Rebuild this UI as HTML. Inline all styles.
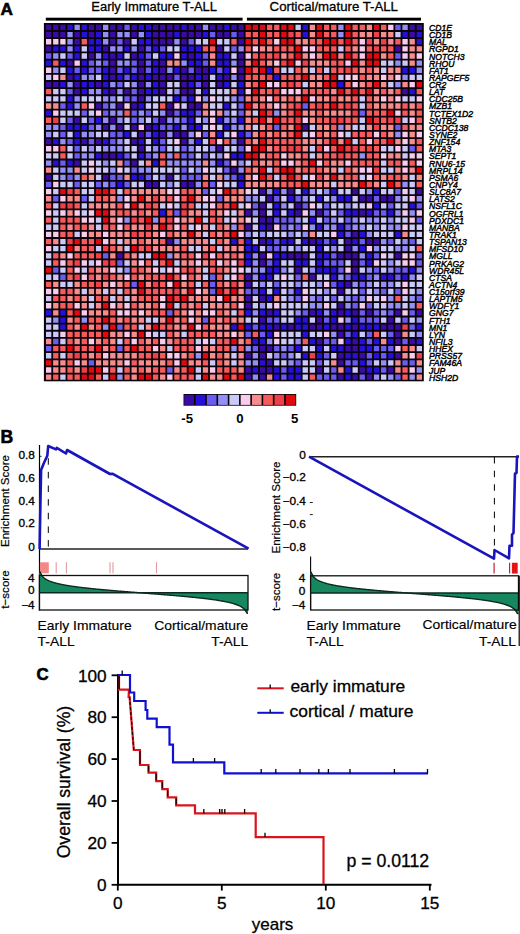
<!DOCTYPE html>
<html><head><meta charset="utf-8"><title>figure</title>
<style>html,body{margin:0;padding:0;background:#fff;width:520px;height:934px;overflow:hidden}</style>
</head><body>
<svg width="520" height="934" viewBox="0 0 520 934" style="display:block">
<style>text{font-family:"Liberation Sans",sans-serif}</style>
<rect width="520" height="934" fill="#fff"/>
<text transform="translate(0.50,15.00)" font-size="17.2" font-weight="bold" stroke="#000" stroke-width="0.6" fill="#000">A</text>
<text transform="translate(91.30,11.20) scale(0.99,1)" font-size="13.1" stroke="#000" stroke-width="0.3" fill="#000">Early Immature T-ALL</text>
<text transform="translate(269.60,11.20) scale(1.01,1)" font-size="13.1" stroke="#000" stroke-width="0.3" fill="#000">Cortical/mature T-ALL</text>
<rect x="45.8" y="17.7" width="196.8" height="2.9" fill="#000"/>
<rect x="246.9" y="17.7" width="174.1" height="2.9" fill="#000"/>
<rect x="43.9" y="23.0" width="379.9" height="358.3" fill="#0a0208"/>
<path fill="#380ca4" d="M45.99 24.78h5.33v5.34h-5.33zM53.12 24.78h5.33v5.34h-5.33zM60.25 24.78h5.33v5.34h-5.33zM88.76 24.78h5.33v5.34h-5.33zM95.89 24.78h5.33v5.34h-5.33zM110.14 24.78h5.33v5.34h-5.33zM117.27 24.78h5.33v5.34h-5.33zM131.53 24.78h5.33v5.34h-5.33zM152.91 24.78h5.33v5.34h-5.33zM160.04 24.78h5.33v5.34h-5.33zM167.17 24.78h5.33v5.34h-5.33zM174.29 24.78h5.33v5.34h-5.33zM188.55 24.78h5.33v5.34h-5.33zM195.68 24.78h5.33v5.34h-5.33zM209.93 24.78h5.33v5.34h-5.33zM217.06 24.78h5.33v5.34h-5.33zM231.32 24.78h5.33v5.34h-5.33zM238.45 24.78h5.33v5.34h-5.33zM409.52 24.78h5.33v5.34h-5.33zM416.65 24.78h5.33v5.34h-5.33zM45.99 31.92h5.33v5.34h-5.33zM53.12 31.92h5.33v5.34h-5.33zM60.25 31.92h5.33v5.34h-5.33zM74.50 31.92h5.33v5.34h-5.33zM88.76 31.92h5.33v5.34h-5.33zM110.14 31.92h5.33v5.34h-5.33zM131.53 31.92h5.33v5.34h-5.33zM152.91 31.92h5.33v5.34h-5.33zM160.04 31.92h5.33v5.34h-5.33zM167.17 31.92h5.33v5.34h-5.33zM181.42 31.92h5.33v5.34h-5.33zM188.55 31.92h5.33v5.34h-5.33zM195.68 31.92h5.33v5.34h-5.33zM217.06 31.92h5.33v5.34h-5.33zM224.19 31.92h5.33v5.34h-5.33zM238.45 31.92h5.33v5.34h-5.33zM409.52 31.92h5.33v5.34h-5.33zM74.50 39.05h5.33v5.34h-5.33zM110.14 39.05h5.33v5.34h-5.33zM124.40 39.05h5.33v5.34h-5.33zM152.91 39.05h5.33v5.34h-5.33zM160.04 39.05h5.33v5.34h-5.33zM167.17 39.05h5.33v5.34h-5.33zM181.42 39.05h5.33v5.34h-5.33zM238.45 39.05h5.33v5.34h-5.33zM45.99 46.19h5.33v5.34h-5.33zM103.01 46.19h5.33v5.34h-5.33zM138.65 46.19h5.33v5.34h-5.33zM217.06 46.19h5.33v5.34h-5.33zM395.26 46.19h5.33v5.34h-5.33zM88.76 53.33h5.33v5.34h-5.33zM110.14 53.33h5.33v5.34h-5.33zM131.53 53.33h5.33v5.34h-5.33zM188.55 53.33h5.33v5.34h-5.33zM238.45 53.33h5.33v5.34h-5.33zM67.37 60.46h5.33v5.34h-5.33zM110.14 60.46h5.33v5.34h-5.33zM138.65 60.46h5.33v5.34h-5.33zM160.04 60.46h5.33v5.34h-5.33zM238.45 60.46h5.33v5.34h-5.33zM110.14 67.60h5.33v5.34h-5.33zM138.65 67.60h5.33v5.34h-5.33zM160.04 67.60h5.33v5.34h-5.33zM181.42 67.60h5.33v5.34h-5.33zM195.68 67.60h5.33v5.34h-5.33zM202.81 67.60h5.33v5.34h-5.33zM238.45 67.60h5.33v5.34h-5.33zM67.37 74.74h5.33v5.34h-5.33zM110.14 74.74h5.33v5.34h-5.33zM138.65 74.74h5.33v5.34h-5.33zM152.91 74.74h5.33v5.34h-5.33zM160.04 74.74h5.33v5.34h-5.33zM167.17 74.74h5.33v5.34h-5.33zM181.42 74.74h5.33v5.34h-5.33zM188.55 74.74h5.33v5.34h-5.33zM202.81 74.74h5.33v5.34h-5.33zM224.19 74.74h5.33v5.34h-5.33zM238.45 74.74h5.33v5.34h-5.33zM45.99 81.88h5.33v5.34h-5.33zM53.12 81.88h5.33v5.34h-5.33zM74.50 81.88h5.33v5.34h-5.33zM95.89 81.88h5.33v5.34h-5.33zM138.65 81.88h5.33v5.34h-5.33zM160.04 81.88h5.33v5.34h-5.33zM181.42 81.88h5.33v5.34h-5.33zM202.81 81.88h5.33v5.34h-5.33zM217.06 81.88h5.33v5.34h-5.33zM74.50 89.01h5.33v5.34h-5.33zM110.14 89.01h5.33v5.34h-5.33zM124.40 89.01h5.33v5.34h-5.33zM138.65 89.01h5.33v5.34h-5.33zM160.04 89.01h5.33v5.34h-5.33zM181.42 89.01h5.33v5.34h-5.33zM188.55 89.01h5.33v5.34h-5.33zM402.39 89.01h5.33v5.34h-5.33zM138.65 96.15h5.33v5.34h-5.33zM95.89 103.29h5.33v5.34h-5.33zM117.27 103.29h5.33v5.34h-5.33zM131.53 103.29h5.33v5.34h-5.33zM167.17 103.29h5.33v5.34h-5.33zM188.55 103.29h5.33v5.34h-5.33zM195.68 103.29h5.33v5.34h-5.33zM167.17 110.42h5.33v5.34h-5.33zM74.50 117.56h5.33v5.34h-5.33zM110.14 117.56h5.33v5.34h-5.33zM160.04 117.56h5.33v5.34h-5.33zM103.01 124.70h5.33v5.34h-5.33zM117.27 124.70h5.33v5.34h-5.33zM131.53 124.70h5.33v5.34h-5.33zM145.78 124.70h5.33v5.34h-5.33zM302.60 124.70h5.33v5.34h-5.33zM138.65 131.84h5.33v5.34h-5.33zM160.04 131.84h5.33v5.34h-5.33zM174.29 131.84h5.33v5.34h-5.33zM181.42 131.84h5.33v5.34h-5.33zM45.99 138.97h5.33v5.34h-5.33zM81.63 138.97h5.33v5.34h-5.33zM95.89 138.97h5.33v5.34h-5.33zM131.53 138.97h5.33v5.34h-5.33zM181.42 138.97h5.33v5.34h-5.33zM238.45 138.97h5.33v5.34h-5.33zM138.65 146.11h5.33v5.34h-5.33zM217.06 146.11h5.33v5.34h-5.33zM103.01 153.25h5.33v5.34h-5.33zM110.14 153.25h5.33v5.34h-5.33zM74.50 160.38h5.33v5.34h-5.33zM131.53 160.38h5.33v5.34h-5.33zM231.32 167.52h5.33v5.34h-5.33zM45.99 174.66h5.33v5.34h-5.33zM103.01 174.66h5.33v5.34h-5.33zM167.17 174.66h5.33v5.34h-5.33zM145.78 181.79h5.33v5.34h-5.33zM152.91 181.79h5.33v5.34h-5.33zM181.42 181.79h5.33v5.34h-5.33zM188.55 181.79h5.33v5.34h-5.33zM259.83 188.93h5.33v5.34h-5.33zM288.34 188.93h5.33v5.34h-5.33zM352.49 188.93h5.33v5.34h-5.33zM416.65 188.93h5.33v5.34h-5.33zM266.96 196.07h5.33v5.34h-5.33zM359.62 196.07h5.33v5.34h-5.33zM366.75 196.07h5.33v5.34h-5.33zM381.01 196.07h5.33v5.34h-5.33zM388.13 196.07h5.33v5.34h-5.33zM259.83 203.20h5.33v5.34h-5.33zM295.47 203.20h5.33v5.34h-5.33zM245.57 210.34h5.33v5.34h-5.33zM259.83 210.34h5.33v5.34h-5.33zM295.47 210.34h5.33v5.34h-5.33zM316.85 210.34h5.33v5.34h-5.33zM359.62 210.34h5.33v5.34h-5.33zM259.83 217.48h5.33v5.34h-5.33zM266.96 217.48h5.33v5.34h-5.33zM245.57 224.62h5.33v5.34h-5.33zM266.96 224.62h5.33v5.34h-5.33zM352.49 231.75h5.33v5.34h-5.33zM167.17 238.89h5.33v5.34h-5.33zM259.83 238.89h5.33v5.34h-5.33zM309.73 238.89h5.33v5.34h-5.33zM345.37 238.89h5.33v5.34h-5.33zM366.75 238.89h5.33v5.34h-5.33zM373.88 238.89h5.33v5.34h-5.33zM345.37 246.03h5.33v5.34h-5.33zM117.27 253.16h5.33v5.34h-5.33zM259.83 253.16h5.33v5.34h-5.33zM288.34 253.16h5.33v5.34h-5.33zM295.47 253.16h5.33v5.34h-5.33zM302.60 253.16h5.33v5.34h-5.33zM338.24 253.16h5.33v5.34h-5.33zM345.37 253.16h5.33v5.34h-5.33zM352.49 253.16h5.33v5.34h-5.33zM395.26 253.16h5.33v5.34h-5.33zM259.83 260.30h5.33v5.34h-5.33zM352.49 260.30h5.33v5.34h-5.33zM295.47 267.44h5.33v5.34h-5.33zM352.49 267.44h5.33v5.34h-5.33zM245.57 274.57h5.33v5.34h-5.33zM309.73 274.57h5.33v5.34h-5.33zM245.57 281.71h5.33v5.34h-5.33zM345.37 281.71h5.33v5.34h-5.33zM338.24 288.85h5.33v5.34h-5.33zM245.57 295.99h5.33v5.34h-5.33zM259.83 295.99h5.33v5.34h-5.33zM245.57 303.12h5.33v5.34h-5.33zM338.24 303.12h5.33v5.34h-5.33zM266.96 310.26h5.33v5.34h-5.33zM309.73 310.26h5.33v5.34h-5.33zM338.24 310.26h5.33v5.34h-5.33zM352.49 310.26h5.33v5.34h-5.33zM366.75 310.26h5.33v5.34h-5.33zM395.26 310.26h5.33v5.34h-5.33zM416.65 310.26h5.33v5.34h-5.33zM259.83 317.40h5.33v5.34h-5.33zM316.85 317.40h5.33v5.34h-5.33zM388.13 317.40h5.33v5.34h-5.33zM274.09 324.53h5.33v5.34h-5.33zM288.34 324.53h5.33v5.34h-5.33zM309.73 324.53h5.33v5.34h-5.33zM316.85 324.53h5.33v5.34h-5.33zM331.11 324.53h5.33v5.34h-5.33zM338.24 324.53h5.33v5.34h-5.33zM352.49 324.53h5.33v5.34h-5.33zM381.01 324.53h5.33v5.34h-5.33zM388.13 324.53h5.33v5.34h-5.33zM395.26 324.53h5.33v5.34h-5.33zM338.24 331.67h5.33v5.34h-5.33zM395.26 331.67h5.33v5.34h-5.33zM316.85 338.81h5.33v5.34h-5.33zM352.49 338.81h5.33v5.34h-5.33zM395.26 338.81h5.33v5.34h-5.33zM409.52 338.81h5.33v5.34h-5.33zM259.83 345.94h5.33v5.34h-5.33zM266.96 345.94h5.33v5.34h-5.33zM345.37 345.94h5.33v5.34h-5.33zM352.49 345.94h5.33v5.34h-5.33zM245.57 353.08h5.33v5.34h-5.33zM259.83 353.08h5.33v5.34h-5.33zM338.24 353.08h5.33v5.34h-5.33zM359.62 353.08h5.33v5.34h-5.33zM395.26 353.08h5.33v5.34h-5.33zM266.96 360.22h5.33v5.34h-5.33zM338.24 360.22h5.33v5.34h-5.33zM245.57 367.36h5.33v5.34h-5.33zM259.83 367.36h5.33v5.34h-5.33zM266.96 367.36h5.33v5.34h-5.33zM316.85 367.36h5.33v5.34h-5.33zM359.62 367.36h5.33v5.34h-5.33zM388.13 367.36h5.33v5.34h-5.33zM245.57 374.49h5.33v5.34h-5.33zM259.83 374.49h5.33v5.34h-5.33zM338.24 374.49h5.33v5.34h-5.33zM352.49 374.49h5.33v5.34h-5.33zM366.75 374.49h5.33v5.34h-5.33z"/>
<path fill="#2410d8" d="M67.37 24.78h5.33v5.34h-5.33zM81.63 24.78h5.33v5.34h-5.33zM138.65 24.78h5.33v5.34h-5.33zM145.78 24.78h5.33v5.34h-5.33zM181.42 24.78h5.33v5.34h-5.33zM224.19 24.78h5.33v5.34h-5.33zM302.60 24.78h5.33v5.34h-5.33zM81.63 31.92h5.33v5.34h-5.33zM95.89 31.92h5.33v5.34h-5.33zM145.78 31.92h5.33v5.34h-5.33zM174.29 31.92h5.33v5.34h-5.33zM202.81 31.92h5.33v5.34h-5.33zM302.60 31.92h5.33v5.34h-5.33zM402.39 31.92h5.33v5.34h-5.33zM416.65 31.92h5.33v5.34h-5.33zM88.76 39.05h5.33v5.34h-5.33zM95.89 39.05h5.33v5.34h-5.33zM138.65 39.05h5.33v5.34h-5.33zM145.78 39.05h5.33v5.34h-5.33zM416.65 39.05h5.33v5.34h-5.33zM53.12 46.19h5.33v5.34h-5.33zM60.25 46.19h5.33v5.34h-5.33zM74.50 46.19h5.33v5.34h-5.33zM88.76 46.19h5.33v5.34h-5.33zM95.89 46.19h5.33v5.34h-5.33zM124.40 46.19h5.33v5.34h-5.33zM152.91 46.19h5.33v5.34h-5.33zM181.42 46.19h5.33v5.34h-5.33zM188.55 46.19h5.33v5.34h-5.33zM195.68 46.19h5.33v5.34h-5.33zM74.50 53.33h5.33v5.34h-5.33zM103.01 53.33h5.33v5.34h-5.33zM117.27 53.33h5.33v5.34h-5.33zM138.65 53.33h5.33v5.34h-5.33zM160.04 53.33h5.33v5.34h-5.33zM167.17 53.33h5.33v5.34h-5.33zM181.42 53.33h5.33v5.34h-5.33zM195.68 53.33h5.33v5.34h-5.33zM217.06 53.33h5.33v5.34h-5.33zM224.19 53.33h5.33v5.34h-5.33zM45.99 60.46h5.33v5.34h-5.33zM60.25 60.46h5.33v5.34h-5.33zM81.63 60.46h5.33v5.34h-5.33zM152.91 60.46h5.33v5.34h-5.33zM188.55 60.46h5.33v5.34h-5.33zM195.68 60.46h5.33v5.34h-5.33zM217.06 60.46h5.33v5.34h-5.33zM224.19 60.46h5.33v5.34h-5.33zM67.37 67.60h5.33v5.34h-5.33zM81.63 67.60h5.33v5.34h-5.33zM103.01 67.60h5.33v5.34h-5.33zM124.40 67.60h5.33v5.34h-5.33zM152.91 67.60h5.33v5.34h-5.33zM174.29 67.60h5.33v5.34h-5.33zM209.93 67.60h5.33v5.34h-5.33zM224.19 67.60h5.33v5.34h-5.33zM266.96 67.60h5.33v5.34h-5.33zM402.39 67.60h5.33v5.34h-5.33zM409.52 67.60h5.33v5.34h-5.33zM74.50 74.74h5.33v5.34h-5.33zM103.01 74.74h5.33v5.34h-5.33zM117.27 74.74h5.33v5.34h-5.33zM131.53 74.74h5.33v5.34h-5.33zM145.78 74.74h5.33v5.34h-5.33zM195.68 74.74h5.33v5.34h-5.33zM217.06 74.74h5.33v5.34h-5.33zM274.09 74.74h5.33v5.34h-5.33zM60.25 81.88h5.33v5.34h-5.33zM81.63 81.88h5.33v5.34h-5.33zM88.76 81.88h5.33v5.34h-5.33zM103.01 81.88h5.33v5.34h-5.33zM152.91 81.88h5.33v5.34h-5.33zM188.55 81.88h5.33v5.34h-5.33zM224.19 81.88h5.33v5.34h-5.33zM238.45 81.88h5.33v5.34h-5.33zM338.24 81.88h5.33v5.34h-5.33zM81.63 89.01h5.33v5.34h-5.33zM103.01 89.01h5.33v5.34h-5.33zM145.78 89.01h5.33v5.34h-5.33zM152.91 89.01h5.33v5.34h-5.33zM202.81 89.01h5.33v5.34h-5.33zM238.45 89.01h5.33v5.34h-5.33zM409.52 89.01h5.33v5.34h-5.33zM67.37 96.15h5.33v5.34h-5.33zM174.29 96.15h5.33v5.34h-5.33zM188.55 96.15h5.33v5.34h-5.33zM67.37 103.29h5.33v5.34h-5.33zM138.65 103.29h5.33v5.34h-5.33zM224.19 103.29h5.33v5.34h-5.33zM45.99 110.42h5.33v5.34h-5.33zM181.42 110.42h5.33v5.34h-5.33zM188.55 110.42h5.33v5.34h-5.33zM95.89 117.56h5.33v5.34h-5.33zM188.55 117.56h5.33v5.34h-5.33zM217.06 117.56h5.33v5.34h-5.33zM238.45 117.56h5.33v5.34h-5.33zM67.37 124.70h5.33v5.34h-5.33zM74.50 124.70h5.33v5.34h-5.33zM81.63 124.70h5.33v5.34h-5.33zM152.91 124.70h5.33v5.34h-5.33zM174.29 124.70h5.33v5.34h-5.33zM188.55 124.70h5.33v5.34h-5.33zM195.68 124.70h5.33v5.34h-5.33zM224.19 124.70h5.33v5.34h-5.33zM74.50 131.84h5.33v5.34h-5.33zM124.40 131.84h5.33v5.34h-5.33zM152.91 131.84h5.33v5.34h-5.33zM217.06 131.84h5.33v5.34h-5.33zM238.45 131.84h5.33v5.34h-5.33zM53.12 138.97h5.33v5.34h-5.33zM74.50 138.97h5.33v5.34h-5.33zM103.01 138.97h5.33v5.34h-5.33zM138.65 138.97h5.33v5.34h-5.33zM152.91 138.97h5.33v5.34h-5.33zM195.68 138.97h5.33v5.34h-5.33zM95.89 153.25h5.33v5.34h-5.33zM117.27 153.25h5.33v5.34h-5.33zM138.65 153.25h5.33v5.34h-5.33zM231.32 153.25h5.33v5.34h-5.33zM238.45 153.25h5.33v5.34h-5.33zM53.12 160.38h5.33v5.34h-5.33zM67.37 160.38h5.33v5.34h-5.33zM152.91 160.38h5.33v5.34h-5.33zM217.06 160.38h5.33v5.34h-5.33zM131.53 174.66h5.33v5.34h-5.33zM138.65 174.66h5.33v5.34h-5.33zM238.45 174.66h5.33v5.34h-5.33zM117.27 181.79h5.33v5.34h-5.33zM238.45 181.79h5.33v5.34h-5.33zM274.09 188.93h5.33v5.34h-5.33zM302.60 188.93h5.33v5.34h-5.33zM331.11 188.93h5.33v5.34h-5.33zM373.88 188.93h5.33v5.34h-5.33zM288.34 196.07h5.33v5.34h-5.33zM316.85 196.07h5.33v5.34h-5.33zM338.24 196.07h5.33v5.34h-5.33zM345.37 196.07h5.33v5.34h-5.33zM274.09 203.20h5.33v5.34h-5.33zM373.88 203.20h5.33v5.34h-5.33zM409.52 203.20h5.33v5.34h-5.33zM160.04 210.34h5.33v5.34h-5.33zM274.09 210.34h5.33v5.34h-5.33zM288.34 210.34h5.33v5.34h-5.33zM345.37 210.34h5.33v5.34h-5.33zM352.49 210.34h5.33v5.34h-5.33zM366.75 210.34h5.33v5.34h-5.33zM388.13 210.34h5.33v5.34h-5.33zM309.73 217.48h5.33v5.34h-5.33zM259.83 224.62h5.33v5.34h-5.33zM316.85 224.62h5.33v5.34h-5.33zM338.24 224.62h5.33v5.34h-5.33zM338.24 231.75h5.33v5.34h-5.33zM359.62 231.75h5.33v5.34h-5.33zM395.26 231.75h5.33v5.34h-5.33zM231.32 238.89h5.33v5.34h-5.33zM245.57 238.89h5.33v5.34h-5.33zM266.96 238.89h5.33v5.34h-5.33zM281.21 238.89h5.33v5.34h-5.33zM288.34 238.89h5.33v5.34h-5.33zM302.60 238.89h5.33v5.34h-5.33zM316.85 238.89h5.33v5.34h-5.33zM331.11 238.89h5.33v5.34h-5.33zM352.49 238.89h5.33v5.34h-5.33zM245.57 246.03h5.33v5.34h-5.33zM252.70 246.03h5.33v5.34h-5.33zM316.85 246.03h5.33v5.34h-5.33zM359.62 246.03h5.33v5.34h-5.33zM245.57 253.16h5.33v5.34h-5.33zM274.09 253.16h5.33v5.34h-5.33zM281.21 253.16h5.33v5.34h-5.33zM316.85 253.16h5.33v5.34h-5.33zM323.98 253.16h5.33v5.34h-5.33zM366.75 253.16h5.33v5.34h-5.33zM245.57 260.30h5.33v5.34h-5.33zM274.09 260.30h5.33v5.34h-5.33zM295.47 260.30h5.33v5.34h-5.33zM302.60 260.30h5.33v5.34h-5.33zM316.85 260.30h5.33v5.34h-5.33zM366.75 260.30h5.33v5.34h-5.33zM266.96 267.44h5.33v5.34h-5.33zM274.09 267.44h5.33v5.34h-5.33zM316.85 267.44h5.33v5.34h-5.33zM323.98 267.44h5.33v5.34h-5.33zM331.11 267.44h5.33v5.34h-5.33zM409.52 267.44h5.33v5.34h-5.33zM259.83 274.57h5.33v5.34h-5.33zM266.96 274.57h5.33v5.34h-5.33zM331.11 274.57h5.33v5.34h-5.33zM352.49 274.57h5.33v5.34h-5.33zM359.62 274.57h5.33v5.34h-5.33zM381.01 274.57h5.33v5.34h-5.33zM388.13 274.57h5.33v5.34h-5.33zM402.39 274.57h5.33v5.34h-5.33zM338.24 281.71h5.33v5.34h-5.33zM259.83 288.85h5.33v5.34h-5.33zM274.09 288.85h5.33v5.34h-5.33zM295.47 288.85h5.33v5.34h-5.33zM266.96 295.99h5.33v5.34h-5.33zM45.99 310.26h5.33v5.34h-5.33zM60.25 310.26h5.33v5.34h-5.33zM245.57 310.26h5.33v5.34h-5.33zM259.83 310.26h5.33v5.34h-5.33zM274.09 310.26h5.33v5.34h-5.33zM316.85 310.26h5.33v5.34h-5.33zM331.11 310.26h5.33v5.34h-5.33zM345.37 310.26h5.33v5.34h-5.33zM60.25 317.40h5.33v5.34h-5.33zM295.47 317.40h5.33v5.34h-5.33zM302.60 317.40h5.33v5.34h-5.33zM331.11 317.40h5.33v5.34h-5.33zM352.49 317.40h5.33v5.34h-5.33zM60.25 324.53h5.33v5.34h-5.33zM231.32 324.53h5.33v5.34h-5.33zM245.57 324.53h5.33v5.34h-5.33zM259.83 324.53h5.33v5.34h-5.33zM266.96 324.53h5.33v5.34h-5.33zM281.21 324.53h5.33v5.34h-5.33zM295.47 324.53h5.33v5.34h-5.33zM302.60 324.53h5.33v5.34h-5.33zM323.98 324.53h5.33v5.34h-5.33zM345.37 324.53h5.33v5.34h-5.33zM359.62 324.53h5.33v5.34h-5.33zM366.75 324.53h5.33v5.34h-5.33zM373.88 324.53h5.33v5.34h-5.33zM416.65 324.53h5.33v5.34h-5.33zM266.96 331.67h5.33v5.34h-5.33zM302.60 331.67h5.33v5.34h-5.33zM352.49 331.67h5.33v5.34h-5.33zM252.70 338.81h5.33v5.34h-5.33zM259.83 338.81h5.33v5.34h-5.33zM309.73 338.81h5.33v5.34h-5.33zM345.37 338.81h5.33v5.34h-5.33zM359.62 338.81h5.33v5.34h-5.33zM373.88 338.81h5.33v5.34h-5.33zM388.13 338.81h5.33v5.34h-5.33zM416.65 338.81h5.33v5.34h-5.33zM295.47 345.94h5.33v5.34h-5.33zM316.85 345.94h5.33v5.34h-5.33zM331.11 345.94h5.33v5.34h-5.33zM338.24 345.94h5.33v5.34h-5.33zM359.62 345.94h5.33v5.34h-5.33zM366.75 345.94h5.33v5.34h-5.33zM302.60 353.08h5.33v5.34h-5.33zM316.85 353.08h5.33v5.34h-5.33zM345.37 353.08h5.33v5.34h-5.33zM352.49 353.08h5.33v5.34h-5.33zM373.88 353.08h5.33v5.34h-5.33zM388.13 353.08h5.33v5.34h-5.33zM259.83 360.22h5.33v5.34h-5.33zM359.62 360.22h5.33v5.34h-5.33zM252.70 367.36h5.33v5.34h-5.33zM274.09 367.36h5.33v5.34h-5.33zM288.34 367.36h5.33v5.34h-5.33zM295.47 367.36h5.33v5.34h-5.33zM345.37 367.36h5.33v5.34h-5.33zM366.75 367.36h5.33v5.34h-5.33zM373.88 367.36h5.33v5.34h-5.33zM274.09 374.49h5.33v5.34h-5.33zM288.34 374.49h5.33v5.34h-5.33zM295.47 374.49h5.33v5.34h-5.33zM345.37 374.49h5.33v5.34h-5.33z"/>
<path fill="#6a5cee" d="M124.40 24.78h5.33v5.34h-5.33zM395.26 24.78h5.33v5.34h-5.33zM209.93 31.92h5.33v5.34h-5.33zM231.32 31.92h5.33v5.34h-5.33zM117.27 39.05h5.33v5.34h-5.33zM188.55 39.05h5.33v5.34h-5.33zM145.78 46.19h5.33v5.34h-5.33zM160.04 46.19h5.33v5.34h-5.33zM231.32 46.19h5.33v5.34h-5.33zM45.99 53.33h5.33v5.34h-5.33zM67.37 53.33h5.33v5.34h-5.33zM145.78 53.33h5.33v5.34h-5.33zM202.81 53.33h5.33v5.34h-5.33zM395.26 53.33h5.33v5.34h-5.33zM88.76 60.46h5.33v5.34h-5.33zM103.01 60.46h5.33v5.34h-5.33zM131.53 60.46h5.33v5.34h-5.33zM145.78 60.46h5.33v5.34h-5.33zM202.81 60.46h5.33v5.34h-5.33zM74.50 67.60h5.33v5.34h-5.33zM88.76 67.60h5.33v5.34h-5.33zM95.89 67.60h5.33v5.34h-5.33zM117.27 67.60h5.33v5.34h-5.33zM131.53 67.60h5.33v5.34h-5.33zM145.78 67.60h5.33v5.34h-5.33zM188.55 67.60h5.33v5.34h-5.33zM217.06 67.60h5.33v5.34h-5.33zM124.40 74.74h5.33v5.34h-5.33zM174.29 74.74h5.33v5.34h-5.33zM117.27 81.88h5.33v5.34h-5.33zM195.68 81.88h5.33v5.34h-5.33zM67.37 89.01h5.33v5.34h-5.33zM131.53 89.01h5.33v5.34h-5.33zM124.40 96.15h5.33v5.34h-5.33zM131.53 96.15h5.33v5.34h-5.33zM181.42 96.15h5.33v5.34h-5.33zM238.45 96.15h5.33v5.34h-5.33zM60.25 103.29h5.33v5.34h-5.33zM103.01 103.29h5.33v5.34h-5.33zM238.45 103.29h5.33v5.34h-5.33zM302.60 103.29h5.33v5.34h-5.33zM81.63 110.42h5.33v5.34h-5.33zM103.01 110.42h5.33v5.34h-5.33zM131.53 110.42h5.33v5.34h-5.33zM145.78 110.42h5.33v5.34h-5.33zM174.29 110.42h5.33v5.34h-5.33zM195.68 110.42h5.33v5.34h-5.33zM238.45 110.42h5.33v5.34h-5.33zM359.62 110.42h5.33v5.34h-5.33zM67.37 117.56h5.33v5.34h-5.33zM88.76 117.56h5.33v5.34h-5.33zM131.53 117.56h5.33v5.34h-5.33zM152.91 117.56h5.33v5.34h-5.33zM181.42 117.56h5.33v5.34h-5.33zM60.25 124.70h5.33v5.34h-5.33zM88.76 124.70h5.33v5.34h-5.33zM160.04 124.70h5.33v5.34h-5.33zM167.17 124.70h5.33v5.34h-5.33zM274.09 124.70h5.33v5.34h-5.33zM395.26 124.70h5.33v5.34h-5.33zM60.25 131.84h5.33v5.34h-5.33zM110.14 131.84h5.33v5.34h-5.33zM117.27 131.84h5.33v5.34h-5.33zM145.78 131.84h5.33v5.34h-5.33zM202.81 131.84h5.33v5.34h-5.33zM245.57 131.84h5.33v5.34h-5.33zM67.37 138.97h5.33v5.34h-5.33zM88.76 138.97h5.33v5.34h-5.33zM110.14 138.97h5.33v5.34h-5.33zM160.04 138.97h5.33v5.34h-5.33zM74.50 146.11h5.33v5.34h-5.33zM160.04 146.11h5.33v5.34h-5.33zM181.42 146.11h5.33v5.34h-5.33zM238.45 146.11h5.33v5.34h-5.33zM409.52 146.11h5.33v5.34h-5.33zM74.50 153.25h5.33v5.34h-5.33zM124.40 153.25h5.33v5.34h-5.33zM145.78 153.25h5.33v5.34h-5.33zM181.42 153.25h5.33v5.34h-5.33zM188.55 153.25h5.33v5.34h-5.33zM202.81 153.25h5.33v5.34h-5.33zM60.25 160.38h5.33v5.34h-5.33zM124.40 160.38h5.33v5.34h-5.33zM224.19 160.38h5.33v5.34h-5.33zM131.53 167.52h5.33v5.34h-5.33zM181.42 167.52h5.33v5.34h-5.33zM224.19 167.52h5.33v5.34h-5.33zM67.37 174.66h5.33v5.34h-5.33zM110.14 174.66h5.33v5.34h-5.33zM117.27 174.66h5.33v5.34h-5.33zM145.78 174.66h5.33v5.34h-5.33zM181.42 174.66h5.33v5.34h-5.33zM188.55 174.66h5.33v5.34h-5.33zM195.68 174.66h5.33v5.34h-5.33zM231.32 174.66h5.33v5.34h-5.33zM45.99 181.79h5.33v5.34h-5.33zM74.50 181.79h5.33v5.34h-5.33zM95.89 181.79h5.33v5.34h-5.33zM110.14 181.79h5.33v5.34h-5.33zM124.40 181.79h5.33v5.34h-5.33zM209.93 181.79h5.33v5.34h-5.33zM202.81 188.93h5.33v5.34h-5.33zM395.26 188.93h5.33v5.34h-5.33zM53.12 196.07h5.33v5.34h-5.33zM81.63 196.07h5.33v5.34h-5.33zM217.06 196.07h5.33v5.34h-5.33zM274.09 196.07h5.33v5.34h-5.33zM295.47 196.07h5.33v5.34h-5.33zM373.88 196.07h5.33v5.34h-5.33zM252.70 203.20h5.33v5.34h-5.33zM302.60 203.20h5.33v5.34h-5.33zM323.98 203.20h5.33v5.34h-5.33zM388.13 203.20h5.33v5.34h-5.33zM416.65 203.20h5.33v5.34h-5.33zM174.29 210.34h5.33v5.34h-5.33zM323.98 210.34h5.33v5.34h-5.33zM338.24 210.34h5.33v5.34h-5.33zM373.88 210.34h5.33v5.34h-5.33zM381.01 210.34h5.33v5.34h-5.33zM274.09 217.48h5.33v5.34h-5.33zM281.21 217.48h5.33v5.34h-5.33zM288.34 217.48h5.33v5.34h-5.33zM323.98 217.48h5.33v5.34h-5.33zM345.37 217.48h5.33v5.34h-5.33zM416.65 217.48h5.33v5.34h-5.33zM281.21 224.62h5.33v5.34h-5.33zM295.47 224.62h5.33v5.34h-5.33zM345.37 224.62h5.33v5.34h-5.33zM345.37 231.75h5.33v5.34h-5.33zM274.09 238.89h5.33v5.34h-5.33zM323.98 238.89h5.33v5.34h-5.33zM359.62 238.89h5.33v5.34h-5.33zM388.13 238.89h5.33v5.34h-5.33zM409.52 238.89h5.33v5.34h-5.33zM266.96 246.03h5.33v5.34h-5.33zM274.09 246.03h5.33v5.34h-5.33zM103.01 253.16h5.33v5.34h-5.33zM331.11 253.16h5.33v5.34h-5.33zM373.88 253.16h5.33v5.34h-5.33zM416.65 253.16h5.33v5.34h-5.33zM117.27 260.30h5.33v5.34h-5.33zM266.96 260.30h5.33v5.34h-5.33zM323.98 260.30h5.33v5.34h-5.33zM331.11 260.30h5.33v5.34h-5.33zM338.24 260.30h5.33v5.34h-5.33zM359.62 260.30h5.33v5.34h-5.33zM416.65 260.30h5.33v5.34h-5.33zM53.12 267.44h5.33v5.34h-5.33zM338.24 267.44h5.33v5.34h-5.33zM373.88 267.44h5.33v5.34h-5.33zM395.26 267.44h5.33v5.34h-5.33zM402.39 267.44h5.33v5.34h-5.33zM60.25 274.57h5.33v5.34h-5.33zM209.93 274.57h5.33v5.34h-5.33zM295.47 274.57h5.33v5.34h-5.33zM345.37 274.57h5.33v5.34h-5.33zM366.75 274.57h5.33v5.34h-5.33zM395.26 274.57h5.33v5.34h-5.33zM131.53 281.71h5.33v5.34h-5.33zM209.93 281.71h5.33v5.34h-5.33zM274.09 281.71h5.33v5.34h-5.33zM331.11 281.71h5.33v5.34h-5.33zM359.62 281.71h5.33v5.34h-5.33zM209.93 288.85h5.33v5.34h-5.33zM245.57 288.85h5.33v5.34h-5.33zM252.70 288.85h5.33v5.34h-5.33zM359.62 288.85h5.33v5.34h-5.33zM381.01 288.85h5.33v5.34h-5.33zM395.26 288.85h5.33v5.34h-5.33zM295.47 295.99h5.33v5.34h-5.33zM316.85 295.99h5.33v5.34h-5.33zM331.11 295.99h5.33v5.34h-5.33zM352.49 295.99h5.33v5.34h-5.33zM416.65 295.99h5.33v5.34h-5.33zM352.49 303.12h5.33v5.34h-5.33zM366.75 303.12h5.33v5.34h-5.33zM167.17 310.26h5.33v5.34h-5.33zM302.60 310.26h5.33v5.34h-5.33zM359.62 310.26h5.33v5.34h-5.33zM373.88 310.26h5.33v5.34h-5.33zM388.13 310.26h5.33v5.34h-5.33zM409.52 310.26h5.33v5.34h-5.33zM202.81 317.40h5.33v5.34h-5.33zM266.96 317.40h5.33v5.34h-5.33zM274.09 317.40h5.33v5.34h-5.33zM323.98 317.40h5.33v5.34h-5.33zM359.62 317.40h5.33v5.34h-5.33zM366.75 317.40h5.33v5.34h-5.33zM373.88 317.40h5.33v5.34h-5.33zM402.39 317.40h5.33v5.34h-5.33zM117.27 324.53h5.33v5.34h-5.33zM252.70 324.53h5.33v5.34h-5.33zM409.52 324.53h5.33v5.34h-5.33zM245.57 331.67h5.33v5.34h-5.33zM259.83 331.67h5.33v5.34h-5.33zM345.37 331.67h5.33v5.34h-5.33zM366.75 331.67h5.33v5.34h-5.33zM388.13 331.67h5.33v5.34h-5.33zM53.12 338.81h5.33v5.34h-5.33zM323.98 338.81h5.33v5.34h-5.33zM331.11 338.81h5.33v5.34h-5.33zM366.75 338.81h5.33v5.34h-5.33zM402.39 338.81h5.33v5.34h-5.33zM45.99 345.94h5.33v5.34h-5.33zM117.27 345.94h5.33v5.34h-5.33zM252.70 345.94h5.33v5.34h-5.33zM274.09 345.94h5.33v5.34h-5.33zM288.34 345.94h5.33v5.34h-5.33zM373.88 345.94h5.33v5.34h-5.33zM381.01 345.94h5.33v5.34h-5.33zM388.13 345.94h5.33v5.34h-5.33zM281.21 353.08h5.33v5.34h-5.33zM323.98 353.08h5.33v5.34h-5.33zM366.75 353.08h5.33v5.34h-5.33zM381.01 353.08h5.33v5.34h-5.33zM88.76 360.22h5.33v5.34h-5.33zM295.47 360.22h5.33v5.34h-5.33zM316.85 360.22h5.33v5.34h-5.33zM345.37 360.22h5.33v5.34h-5.33zM352.49 360.22h5.33v5.34h-5.33zM366.75 360.22h5.33v5.34h-5.33zM402.39 360.22h5.33v5.34h-5.33zM409.52 360.22h5.33v5.34h-5.33zM167.17 367.36h5.33v5.34h-5.33zM281.21 367.36h5.33v5.34h-5.33zM331.11 367.36h5.33v5.34h-5.33zM381.01 367.36h5.33v5.34h-5.33zM281.21 374.49h5.33v5.34h-5.33zM316.85 374.49h5.33v5.34h-5.33zM323.98 374.49h5.33v5.34h-5.33zM331.11 374.49h5.33v5.34h-5.33zM359.62 374.49h5.33v5.34h-5.33zM395.26 374.49h5.33v5.34h-5.33z"/>
<path fill="#9290f4" d="M74.50 24.78h5.33v5.34h-5.33zM103.01 24.78h5.33v5.34h-5.33zM202.81 24.78h5.33v5.34h-5.33zM338.24 24.78h5.33v5.34h-5.33zM402.39 24.78h5.33v5.34h-5.33zM67.37 31.92h5.33v5.34h-5.33zM103.01 31.92h5.33v5.34h-5.33zM117.27 31.92h5.33v5.34h-5.33zM124.40 31.92h5.33v5.34h-5.33zM138.65 31.92h5.33v5.34h-5.33zM338.24 31.92h5.33v5.34h-5.33zM67.37 39.05h5.33v5.34h-5.33zM103.01 39.05h5.33v5.34h-5.33zM174.29 39.05h5.33v5.34h-5.33zM67.37 46.19h5.33v5.34h-5.33zM110.14 46.19h5.33v5.34h-5.33zM117.27 46.19h5.33v5.34h-5.33zM131.53 46.19h5.33v5.34h-5.33zM238.45 46.19h5.33v5.34h-5.33zM53.12 53.33h5.33v5.34h-5.33zM95.89 53.33h5.33v5.34h-5.33zM95.89 60.46h5.33v5.34h-5.33zM117.27 60.46h5.33v5.34h-5.33zM124.40 60.46h5.33v5.34h-5.33zM181.42 60.46h5.33v5.34h-5.33zM231.32 60.46h5.33v5.34h-5.33zM395.26 60.46h5.33v5.34h-5.33zM416.65 60.46h5.33v5.34h-5.33zM53.12 67.60h5.33v5.34h-5.33zM167.17 67.60h5.33v5.34h-5.33zM416.65 67.60h5.33v5.34h-5.33zM81.63 74.74h5.33v5.34h-5.33zM88.76 74.74h5.33v5.34h-5.33zM231.32 74.74h5.33v5.34h-5.33zM402.39 74.74h5.33v5.34h-5.33zM67.37 81.88h5.33v5.34h-5.33zM110.14 81.88h5.33v5.34h-5.33zM131.53 81.88h5.33v5.34h-5.33zM145.78 81.88h5.33v5.34h-5.33zM395.26 81.88h5.33v5.34h-5.33zM88.76 89.01h5.33v5.34h-5.33zM95.89 89.01h5.33v5.34h-5.33zM117.27 89.01h5.33v5.34h-5.33zM174.29 89.01h5.33v5.34h-5.33zM74.50 96.15h5.33v5.34h-5.33zM103.01 96.15h5.33v5.34h-5.33zM110.14 96.15h5.33v5.34h-5.33zM145.78 96.15h5.33v5.34h-5.33zM202.81 96.15h5.33v5.34h-5.33zM231.32 96.15h5.33v5.34h-5.33zM74.50 103.29h5.33v5.34h-5.33zM110.14 103.29h5.33v5.34h-5.33zM110.14 110.42h5.33v5.34h-5.33zM117.27 110.42h5.33v5.34h-5.33zM138.65 110.42h5.33v5.34h-5.33zM160.04 110.42h5.33v5.34h-5.33zM224.19 110.42h5.33v5.34h-5.33zM274.09 110.42h5.33v5.34h-5.33zM103.01 117.56h5.33v5.34h-5.33zM117.27 117.56h5.33v5.34h-5.33zM138.65 117.56h5.33v5.34h-5.33zM167.17 117.56h5.33v5.34h-5.33zM174.29 117.56h5.33v5.34h-5.33zM202.81 117.56h5.33v5.34h-5.33zM224.19 117.56h5.33v5.34h-5.33zM231.32 117.56h5.33v5.34h-5.33zM45.99 124.70h5.33v5.34h-5.33zM53.12 124.70h5.33v5.34h-5.33zM95.89 124.70h5.33v5.34h-5.33zM110.14 124.70h5.33v5.34h-5.33zM181.42 124.70h5.33v5.34h-5.33zM231.32 124.70h5.33v5.34h-5.33zM238.45 124.70h5.33v5.34h-5.33zM338.24 124.70h5.33v5.34h-5.33zM45.99 131.84h5.33v5.34h-5.33zM81.63 131.84h5.33v5.34h-5.33zM88.76 131.84h5.33v5.34h-5.33zM167.17 131.84h5.33v5.34h-5.33zM188.55 131.84h5.33v5.34h-5.33zM395.26 131.84h5.33v5.34h-5.33zM60.25 138.97h5.33v5.34h-5.33zM117.27 138.97h5.33v5.34h-5.33zM188.55 138.97h5.33v5.34h-5.33zM231.32 138.97h5.33v5.34h-5.33zM88.76 146.11h5.33v5.34h-5.33zM103.01 146.11h5.33v5.34h-5.33zM110.14 146.11h5.33v5.34h-5.33zM117.27 146.11h5.33v5.34h-5.33zM152.91 146.11h5.33v5.34h-5.33zM188.55 146.11h5.33v5.34h-5.33zM209.93 146.11h5.33v5.34h-5.33zM81.63 153.25h5.33v5.34h-5.33zM88.76 153.25h5.33v5.34h-5.33zM152.91 153.25h5.33v5.34h-5.33zM167.17 153.25h5.33v5.34h-5.33zM217.06 153.25h5.33v5.34h-5.33zM359.62 153.25h5.33v5.34h-5.33zM45.99 160.38h5.33v5.34h-5.33zM103.01 160.38h5.33v5.34h-5.33zM167.17 160.38h5.33v5.34h-5.33zM174.29 160.38h5.33v5.34h-5.33zM181.42 160.38h5.33v5.34h-5.33zM188.55 160.38h5.33v5.34h-5.33zM195.68 160.38h5.33v5.34h-5.33zM209.93 160.38h5.33v5.34h-5.33zM238.45 160.38h5.33v5.34h-5.33zM60.25 167.52h5.33v5.34h-5.33zM67.37 167.52h5.33v5.34h-5.33zM110.14 167.52h5.33v5.34h-5.33zM138.65 167.52h5.33v5.34h-5.33zM145.78 167.52h5.33v5.34h-5.33zM195.68 167.52h5.33v5.34h-5.33zM238.45 167.52h5.33v5.34h-5.33zM60.25 174.66h5.33v5.34h-5.33zM74.50 174.66h5.33v5.34h-5.33zM160.04 174.66h5.33v5.34h-5.33zM224.19 174.66h5.33v5.34h-5.33zM103.01 181.79h5.33v5.34h-5.33zM167.17 181.79h5.33v5.34h-5.33zM195.68 181.79h5.33v5.34h-5.33zM402.39 181.79h5.33v5.34h-5.33zM266.96 188.93h5.33v5.34h-5.33zM281.21 188.93h5.33v5.34h-5.33zM309.73 188.93h5.33v5.34h-5.33zM323.98 188.93h5.33v5.34h-5.33zM366.75 188.93h5.33v5.34h-5.33zM117.27 196.07h5.33v5.34h-5.33zM245.57 196.07h5.33v5.34h-5.33zM252.70 196.07h5.33v5.34h-5.33zM302.60 196.07h5.33v5.34h-5.33zM331.11 196.07h5.33v5.34h-5.33zM395.26 196.07h5.33v5.34h-5.33zM416.65 196.07h5.33v5.34h-5.33zM281.21 203.20h5.33v5.34h-5.33zM345.37 203.20h5.33v5.34h-5.33zM252.70 210.34h5.33v5.34h-5.33zM309.73 210.34h5.33v5.34h-5.33zM395.26 210.34h5.33v5.34h-5.33zM409.52 210.34h5.33v5.34h-5.33zM124.40 217.48h5.33v5.34h-5.33zM152.91 217.48h5.33v5.34h-5.33zM295.47 217.48h5.33v5.34h-5.33zM331.11 217.48h5.33v5.34h-5.33zM352.49 217.48h5.33v5.34h-5.33zM366.75 217.48h5.33v5.34h-5.33zM373.88 217.48h5.33v5.34h-5.33zM388.13 217.48h5.33v5.34h-5.33zM231.32 224.62h5.33v5.34h-5.33zM288.34 224.62h5.33v5.34h-5.33zM309.73 224.62h5.33v5.34h-5.33zM323.98 224.62h5.33v5.34h-5.33zM331.11 224.62h5.33v5.34h-5.33zM352.49 224.62h5.33v5.34h-5.33zM359.62 224.62h5.33v5.34h-5.33zM373.88 224.62h5.33v5.34h-5.33zM388.13 224.62h5.33v5.34h-5.33zM395.26 224.62h5.33v5.34h-5.33zM245.57 231.75h5.33v5.34h-5.33zM259.83 231.75h5.33v5.34h-5.33zM288.34 231.75h5.33v5.34h-5.33zM302.60 231.75h5.33v5.34h-5.33zM366.75 231.75h5.33v5.34h-5.33zM174.29 238.89h5.33v5.34h-5.33zM381.01 238.89h5.33v5.34h-5.33zM402.39 238.89h5.33v5.34h-5.33zM281.21 246.03h5.33v5.34h-5.33zM295.47 246.03h5.33v5.34h-5.33zM331.11 246.03h5.33v5.34h-5.33zM352.49 246.03h5.33v5.34h-5.33zM373.88 246.03h5.33v5.34h-5.33zM395.26 246.03h5.33v5.34h-5.33zM402.39 246.03h5.33v5.34h-5.33zM167.17 253.16h5.33v5.34h-5.33zM252.70 253.16h5.33v5.34h-5.33zM359.62 253.16h5.33v5.34h-5.33zM252.70 260.30h5.33v5.34h-5.33zM388.13 260.30h5.33v5.34h-5.33zM124.40 267.44h5.33v5.34h-5.33zM252.70 267.44h5.33v5.34h-5.33zM259.83 267.44h5.33v5.34h-5.33zM281.21 267.44h5.33v5.34h-5.33zM309.73 267.44h5.33v5.34h-5.33zM366.75 267.44h5.33v5.34h-5.33zM388.13 267.44h5.33v5.34h-5.33zM416.65 267.44h5.33v5.34h-5.33zM252.70 274.57h5.33v5.34h-5.33zM338.24 274.57h5.33v5.34h-5.33zM373.88 274.57h5.33v5.34h-5.33zM409.52 274.57h5.33v5.34h-5.33zM259.83 281.71h5.33v5.34h-5.33zM295.47 281.71h5.33v5.34h-5.33zM316.85 281.71h5.33v5.34h-5.33zM352.49 281.71h5.33v5.34h-5.33zM366.75 281.71h5.33v5.34h-5.33zM381.01 281.71h5.33v5.34h-5.33zM388.13 281.71h5.33v5.34h-5.33zM288.34 288.85h5.33v5.34h-5.33zM323.98 288.85h5.33v5.34h-5.33zM373.88 288.85h5.33v5.34h-5.33zM416.65 288.85h5.33v5.34h-5.33zM288.34 295.99h5.33v5.34h-5.33zM309.73 295.99h5.33v5.34h-5.33zM345.37 295.99h5.33v5.34h-5.33zM359.62 295.99h5.33v5.34h-5.33zM388.13 295.99h5.33v5.34h-5.33zM409.52 295.99h5.33v5.34h-5.33zM259.83 303.12h5.33v5.34h-5.33zM309.73 303.12h5.33v5.34h-5.33zM316.85 303.12h5.33v5.34h-5.33zM345.37 303.12h5.33v5.34h-5.33zM388.13 303.12h5.33v5.34h-5.33zM395.26 303.12h5.33v5.34h-5.33zM409.52 303.12h5.33v5.34h-5.33zM252.70 310.26h5.33v5.34h-5.33zM295.47 310.26h5.33v5.34h-5.33zM323.98 310.26h5.33v5.34h-5.33zM381.01 310.26h5.33v5.34h-5.33zM53.12 317.40h5.33v5.34h-5.33zM81.63 317.40h5.33v5.34h-5.33zM345.37 317.40h5.33v5.34h-5.33zM416.65 317.40h5.33v5.34h-5.33zM103.01 324.53h5.33v5.34h-5.33zM331.11 331.67h5.33v5.34h-5.33zM416.65 331.67h5.33v5.34h-5.33zM266.96 338.81h5.33v5.34h-5.33zM295.47 338.81h5.33v5.34h-5.33zM231.32 345.94h5.33v5.34h-5.33zM245.57 345.94h5.33v5.34h-5.33zM281.21 345.94h5.33v5.34h-5.33zM195.68 353.08h5.33v5.34h-5.33zM252.70 353.08h5.33v5.34h-5.33zM274.09 353.08h5.33v5.34h-5.33zM288.34 353.08h5.33v5.34h-5.33zM245.57 360.22h5.33v5.34h-5.33zM252.70 360.22h5.33v5.34h-5.33zM288.34 360.22h5.33v5.34h-5.33zM381.01 360.22h5.33v5.34h-5.33zM416.65 367.36h5.33v5.34h-5.33zM117.27 374.49h5.33v5.34h-5.33zM252.70 374.49h5.33v5.34h-5.33zM373.88 374.49h5.33v5.34h-5.33zM388.13 374.49h5.33v5.34h-5.33zM409.52 374.49h5.33v5.34h-5.33z"/>
<path fill="#cacaf8" d="M295.47 24.78h5.33v5.34h-5.33zM395.26 31.92h5.33v5.34h-5.33zM131.53 39.05h5.33v5.34h-5.33zM195.68 39.05h5.33v5.34h-5.33zM202.81 39.05h5.33v5.34h-5.33zM217.06 39.05h5.33v5.34h-5.33zM224.19 39.05h5.33v5.34h-5.33zM81.63 46.19h5.33v5.34h-5.33zM167.17 46.19h5.33v5.34h-5.33zM174.29 46.19h5.33v5.34h-5.33zM224.19 46.19h5.33v5.34h-5.33zM338.24 46.19h5.33v5.34h-5.33zM60.25 53.33h5.33v5.34h-5.33zM81.63 53.33h5.33v5.34h-5.33zM124.40 53.33h5.33v5.34h-5.33zM152.91 53.33h5.33v5.34h-5.33zM231.32 53.33h5.33v5.34h-5.33zM381.01 60.46h5.33v5.34h-5.33zM388.13 60.46h5.33v5.34h-5.33zM402.39 60.46h5.33v5.34h-5.33zM60.25 67.60h5.33v5.34h-5.33zM281.21 67.60h5.33v5.34h-5.33zM288.34 67.60h5.33v5.34h-5.33zM309.73 67.60h5.33v5.34h-5.33zM323.98 67.60h5.33v5.34h-5.33zM381.01 67.60h5.33v5.34h-5.33zM45.99 74.74h5.33v5.34h-5.33zM95.89 74.74h5.33v5.34h-5.33zM209.93 74.74h5.33v5.34h-5.33zM338.24 74.74h5.33v5.34h-5.33zM409.52 74.74h5.33v5.34h-5.33zM416.65 74.74h5.33v5.34h-5.33zM124.40 81.88h5.33v5.34h-5.33zM167.17 81.88h5.33v5.34h-5.33zM174.29 81.88h5.33v5.34h-5.33zM209.93 81.88h5.33v5.34h-5.33zM231.32 81.88h5.33v5.34h-5.33zM302.60 81.88h5.33v5.34h-5.33zM388.13 81.88h5.33v5.34h-5.33zM53.12 89.01h5.33v5.34h-5.33zM60.25 89.01h5.33v5.34h-5.33zM167.17 89.01h5.33v5.34h-5.33zM195.68 89.01h5.33v5.34h-5.33zM209.93 89.01h5.33v5.34h-5.33zM217.06 89.01h5.33v5.34h-5.33zM224.19 89.01h5.33v5.34h-5.33zM45.99 96.15h5.33v5.34h-5.33zM53.12 96.15h5.33v5.34h-5.33zM60.25 96.15h5.33v5.34h-5.33zM81.63 96.15h5.33v5.34h-5.33zM88.76 96.15h5.33v5.34h-5.33zM95.89 96.15h5.33v5.34h-5.33zM117.27 96.15h5.33v5.34h-5.33zM152.91 96.15h5.33v5.34h-5.33zM160.04 96.15h5.33v5.34h-5.33zM167.17 96.15h5.33v5.34h-5.33zM217.06 96.15h5.33v5.34h-5.33zM224.19 96.15h5.33v5.34h-5.33zM359.62 96.15h5.33v5.34h-5.33zM402.39 96.15h5.33v5.34h-5.33zM409.52 96.15h5.33v5.34h-5.33zM145.78 103.29h5.33v5.34h-5.33zM152.91 103.29h5.33v5.34h-5.33zM181.42 103.29h5.33v5.34h-5.33zM209.93 103.29h5.33v5.34h-5.33zM217.06 103.29h5.33v5.34h-5.33zM231.32 103.29h5.33v5.34h-5.33zM359.62 103.29h5.33v5.34h-5.33zM60.25 110.42h5.33v5.34h-5.33zM67.37 110.42h5.33v5.34h-5.33zM74.50 110.42h5.33v5.34h-5.33zM88.76 110.42h5.33v5.34h-5.33zM152.91 110.42h5.33v5.34h-5.33zM231.32 110.42h5.33v5.34h-5.33zM252.70 110.42h5.33v5.34h-5.33zM60.25 117.56h5.33v5.34h-5.33zM81.63 117.56h5.33v5.34h-5.33zM124.40 117.56h5.33v5.34h-5.33zM145.78 117.56h5.33v5.34h-5.33zM195.68 117.56h5.33v5.34h-5.33zM359.62 117.56h5.33v5.34h-5.33zM402.39 117.56h5.33v5.34h-5.33zM124.40 124.70h5.33v5.34h-5.33zM202.81 124.70h5.33v5.34h-5.33zM217.06 124.70h5.33v5.34h-5.33zM252.70 124.70h5.33v5.34h-5.33zM309.73 124.70h5.33v5.34h-5.33zM352.49 124.70h5.33v5.34h-5.33zM359.62 124.70h5.33v5.34h-5.33zM53.12 131.84h5.33v5.34h-5.33zM67.37 131.84h5.33v5.34h-5.33zM95.89 131.84h5.33v5.34h-5.33zM103.01 131.84h5.33v5.34h-5.33zM131.53 131.84h5.33v5.34h-5.33zM224.19 131.84h5.33v5.34h-5.33zM302.60 131.84h5.33v5.34h-5.33zM345.37 131.84h5.33v5.34h-5.33zM124.40 138.97h5.33v5.34h-5.33zM145.78 138.97h5.33v5.34h-5.33zM167.17 138.97h5.33v5.34h-5.33zM202.81 138.97h5.33v5.34h-5.33zM352.49 138.97h5.33v5.34h-5.33zM67.37 146.11h5.33v5.34h-5.33zM81.63 146.11h5.33v5.34h-5.33zM95.89 146.11h5.33v5.34h-5.33zM124.40 146.11h5.33v5.34h-5.33zM131.53 146.11h5.33v5.34h-5.33zM145.78 146.11h5.33v5.34h-5.33zM167.17 146.11h5.33v5.34h-5.33zM174.29 146.11h5.33v5.34h-5.33zM195.68 146.11h5.33v5.34h-5.33zM202.81 146.11h5.33v5.34h-5.33zM224.19 146.11h5.33v5.34h-5.33zM231.32 146.11h5.33v5.34h-5.33zM309.73 146.11h5.33v5.34h-5.33zM381.01 146.11h5.33v5.34h-5.33zM388.13 146.11h5.33v5.34h-5.33zM402.39 146.11h5.33v5.34h-5.33zM45.99 153.25h5.33v5.34h-5.33zM53.12 153.25h5.33v5.34h-5.33zM67.37 153.25h5.33v5.34h-5.33zM131.53 153.25h5.33v5.34h-5.33zM195.68 153.25h5.33v5.34h-5.33zM209.93 153.25h5.33v5.34h-5.33zM309.73 153.25h5.33v5.34h-5.33zM402.39 153.25h5.33v5.34h-5.33zM81.63 160.38h5.33v5.34h-5.33zM95.89 160.38h5.33v5.34h-5.33zM110.14 160.38h5.33v5.34h-5.33zM138.65 160.38h5.33v5.34h-5.33zM245.57 160.38h5.33v5.34h-5.33zM381.01 160.38h5.33v5.34h-5.33zM53.12 167.52h5.33v5.34h-5.33zM81.63 167.52h5.33v5.34h-5.33zM95.89 167.52h5.33v5.34h-5.33zM103.01 167.52h5.33v5.34h-5.33zM124.40 167.52h5.33v5.34h-5.33zM152.91 167.52h5.33v5.34h-5.33zM160.04 167.52h5.33v5.34h-5.33zM167.17 167.52h5.33v5.34h-5.33zM174.29 167.52h5.33v5.34h-5.33zM188.55 167.52h5.33v5.34h-5.33zM209.93 167.52h5.33v5.34h-5.33zM217.06 167.52h5.33v5.34h-5.33zM266.96 167.52h5.33v5.34h-5.33zM338.24 167.52h5.33v5.34h-5.33zM381.01 167.52h5.33v5.34h-5.33zM388.13 167.52h5.33v5.34h-5.33zM53.12 174.66h5.33v5.34h-5.33zM95.89 174.66h5.33v5.34h-5.33zM152.91 174.66h5.33v5.34h-5.33zM174.29 174.66h5.33v5.34h-5.33zM209.93 174.66h5.33v5.34h-5.33zM274.09 174.66h5.33v5.34h-5.33zM302.60 174.66h5.33v5.34h-5.33zM359.62 174.66h5.33v5.34h-5.33zM409.52 174.66h5.33v5.34h-5.33zM60.25 181.79h5.33v5.34h-5.33zM67.37 181.79h5.33v5.34h-5.33zM81.63 181.79h5.33v5.34h-5.33zM88.76 181.79h5.33v5.34h-5.33zM131.53 181.79h5.33v5.34h-5.33zM138.65 181.79h5.33v5.34h-5.33zM160.04 181.79h5.33v5.34h-5.33zM174.29 181.79h5.33v5.34h-5.33zM224.19 181.79h5.33v5.34h-5.33zM231.32 181.79h5.33v5.34h-5.33zM331.11 181.79h5.33v5.34h-5.33zM381.01 181.79h5.33v5.34h-5.33zM409.52 181.79h5.33v5.34h-5.33zM53.12 188.93h5.33v5.34h-5.33zM81.63 188.93h5.33v5.34h-5.33zM88.76 188.93h5.33v5.34h-5.33zM117.27 188.93h5.33v5.34h-5.33zM209.93 188.93h5.33v5.34h-5.33zM252.70 188.93h5.33v5.34h-5.33zM295.47 188.93h5.33v5.34h-5.33zM316.85 188.93h5.33v5.34h-5.33zM338.24 188.93h5.33v5.34h-5.33zM345.37 188.93h5.33v5.34h-5.33zM359.62 188.93h5.33v5.34h-5.33zM381.01 188.93h5.33v5.34h-5.33zM388.13 188.93h5.33v5.34h-5.33zM409.52 188.93h5.33v5.34h-5.33zM88.76 196.07h5.33v5.34h-5.33zM259.83 196.07h5.33v5.34h-5.33zM281.21 196.07h5.33v5.34h-5.33zM309.73 196.07h5.33v5.34h-5.33zM323.98 196.07h5.33v5.34h-5.33zM352.49 196.07h5.33v5.34h-5.33zM402.39 196.07h5.33v5.34h-5.33zM53.12 203.20h5.33v5.34h-5.33zM81.63 203.20h5.33v5.34h-5.33zM160.04 203.20h5.33v5.34h-5.33zM174.29 203.20h5.33v5.34h-5.33zM195.68 203.20h5.33v5.34h-5.33zM202.81 203.20h5.33v5.34h-5.33zM238.45 203.20h5.33v5.34h-5.33zM266.96 203.20h5.33v5.34h-5.33zM288.34 203.20h5.33v5.34h-5.33zM316.85 203.20h5.33v5.34h-5.33zM331.11 203.20h5.33v5.34h-5.33zM338.24 203.20h5.33v5.34h-5.33zM352.49 203.20h5.33v5.34h-5.33zM359.62 203.20h5.33v5.34h-5.33zM381.01 203.20h5.33v5.34h-5.33zM395.26 203.20h5.33v5.34h-5.33zM402.39 203.20h5.33v5.34h-5.33zM53.12 210.34h5.33v5.34h-5.33zM81.63 210.34h5.33v5.34h-5.33zM202.81 210.34h5.33v5.34h-5.33zM231.32 210.34h5.33v5.34h-5.33zM266.96 210.34h5.33v5.34h-5.33zM281.21 210.34h5.33v5.34h-5.33zM331.11 210.34h5.33v5.34h-5.33zM53.12 217.48h5.33v5.34h-5.33zM95.89 217.48h5.33v5.34h-5.33zM202.81 217.48h5.33v5.34h-5.33zM224.19 217.48h5.33v5.34h-5.33zM252.70 217.48h5.33v5.34h-5.33zM302.60 217.48h5.33v5.34h-5.33zM316.85 217.48h5.33v5.34h-5.33zM338.24 217.48h5.33v5.34h-5.33zM359.62 217.48h5.33v5.34h-5.33zM381.01 217.48h5.33v5.34h-5.33zM395.26 217.48h5.33v5.34h-5.33zM402.39 217.48h5.33v5.34h-5.33zM45.99 224.62h5.33v5.34h-5.33zM53.12 224.62h5.33v5.34h-5.33zM95.89 224.62h5.33v5.34h-5.33zM188.55 224.62h5.33v5.34h-5.33zM209.93 224.62h5.33v5.34h-5.33zM252.70 224.62h5.33v5.34h-5.33zM366.75 224.62h5.33v5.34h-5.33zM381.01 224.62h5.33v5.34h-5.33zM409.52 224.62h5.33v5.34h-5.33zM416.65 224.62h5.33v5.34h-5.33zM74.50 231.75h5.33v5.34h-5.33zM202.81 231.75h5.33v5.34h-5.33zM252.70 231.75h5.33v5.34h-5.33zM266.96 231.75h5.33v5.34h-5.33zM274.09 231.75h5.33v5.34h-5.33zM281.21 231.75h5.33v5.34h-5.33zM295.47 231.75h5.33v5.34h-5.33zM316.85 231.75h5.33v5.34h-5.33zM323.98 231.75h5.33v5.34h-5.33zM373.88 231.75h5.33v5.34h-5.33zM381.01 231.75h5.33v5.34h-5.33zM388.13 231.75h5.33v5.34h-5.33zM409.52 231.75h5.33v5.34h-5.33zM416.65 231.75h5.33v5.34h-5.33zM60.25 238.89h5.33v5.34h-5.33zM117.27 238.89h5.33v5.34h-5.33zM209.93 238.89h5.33v5.34h-5.33zM252.70 238.89h5.33v5.34h-5.33zM295.47 238.89h5.33v5.34h-5.33zM338.24 238.89h5.33v5.34h-5.33zM395.26 238.89h5.33v5.34h-5.33zM416.65 238.89h5.33v5.34h-5.33zM53.12 246.03h5.33v5.34h-5.33zM60.25 246.03h5.33v5.34h-5.33zM95.89 246.03h5.33v5.34h-5.33zM124.40 246.03h5.33v5.34h-5.33zM188.55 246.03h5.33v5.34h-5.33zM195.68 246.03h5.33v5.34h-5.33zM217.06 246.03h5.33v5.34h-5.33zM259.83 246.03h5.33v5.34h-5.33zM288.34 246.03h5.33v5.34h-5.33zM302.60 246.03h5.33v5.34h-5.33zM309.73 246.03h5.33v5.34h-5.33zM323.98 246.03h5.33v5.34h-5.33zM338.24 246.03h5.33v5.34h-5.33zM381.01 246.03h5.33v5.34h-5.33zM388.13 246.03h5.33v5.34h-5.33zM409.52 246.03h5.33v5.34h-5.33zM45.99 253.16h5.33v5.34h-5.33zM138.65 253.16h5.33v5.34h-5.33zM145.78 253.16h5.33v5.34h-5.33zM309.73 253.16h5.33v5.34h-5.33zM388.13 253.16h5.33v5.34h-5.33zM45.99 260.30h5.33v5.34h-5.33zM88.76 260.30h5.33v5.34h-5.33zM124.40 260.30h5.33v5.34h-5.33zM152.91 260.30h5.33v5.34h-5.33zM174.29 260.30h5.33v5.34h-5.33zM281.21 260.30h5.33v5.34h-5.33zM288.34 260.30h5.33v5.34h-5.33zM309.73 260.30h5.33v5.34h-5.33zM345.37 260.30h5.33v5.34h-5.33zM381.01 260.30h5.33v5.34h-5.33zM395.26 260.30h5.33v5.34h-5.33zM60.25 267.44h5.33v5.34h-5.33zM81.63 267.44h5.33v5.34h-5.33zM117.27 267.44h5.33v5.34h-5.33zM160.04 267.44h5.33v5.34h-5.33zM202.81 267.44h5.33v5.34h-5.33zM245.57 267.44h5.33v5.34h-5.33zM288.34 267.44h5.33v5.34h-5.33zM302.60 267.44h5.33v5.34h-5.33zM359.62 267.44h5.33v5.34h-5.33zM381.01 267.44h5.33v5.34h-5.33zM45.99 274.57h5.33v5.34h-5.33zM53.12 274.57h5.33v5.34h-5.33zM202.81 274.57h5.33v5.34h-5.33zM224.19 274.57h5.33v5.34h-5.33zM274.09 274.57h5.33v5.34h-5.33zM288.34 274.57h5.33v5.34h-5.33zM316.85 274.57h5.33v5.34h-5.33zM323.98 274.57h5.33v5.34h-5.33zM416.65 274.57h5.33v5.34h-5.33zM60.25 281.71h5.33v5.34h-5.33zM67.37 281.71h5.33v5.34h-5.33zM195.68 281.71h5.33v5.34h-5.33zM252.70 281.71h5.33v5.34h-5.33zM266.96 281.71h5.33v5.34h-5.33zM281.21 281.71h5.33v5.34h-5.33zM288.34 281.71h5.33v5.34h-5.33zM302.60 281.71h5.33v5.34h-5.33zM309.73 281.71h5.33v5.34h-5.33zM373.88 281.71h5.33v5.34h-5.33zM395.26 281.71h5.33v5.34h-5.33zM409.52 281.71h5.33v5.34h-5.33zM416.65 281.71h5.33v5.34h-5.33zM81.63 288.85h5.33v5.34h-5.33zM103.01 288.85h5.33v5.34h-5.33zM117.27 288.85h5.33v5.34h-5.33zM266.96 288.85h5.33v5.34h-5.33zM281.21 288.85h5.33v5.34h-5.33zM309.73 288.85h5.33v5.34h-5.33zM316.85 288.85h5.33v5.34h-5.33zM331.11 288.85h5.33v5.34h-5.33zM345.37 288.85h5.33v5.34h-5.33zM352.49 288.85h5.33v5.34h-5.33zM366.75 288.85h5.33v5.34h-5.33zM388.13 288.85h5.33v5.34h-5.33zM409.52 288.85h5.33v5.34h-5.33zM45.99 295.99h5.33v5.34h-5.33zM88.76 295.99h5.33v5.34h-5.33zM110.14 295.99h5.33v5.34h-5.33zM124.40 295.99h5.33v5.34h-5.33zM252.70 295.99h5.33v5.34h-5.33zM281.21 295.99h5.33v5.34h-5.33zM323.98 295.99h5.33v5.34h-5.33zM338.24 295.99h5.33v5.34h-5.33zM373.88 295.99h5.33v5.34h-5.33zM402.39 295.99h5.33v5.34h-5.33zM88.76 303.12h5.33v5.34h-5.33zM174.29 303.12h5.33v5.34h-5.33zM202.81 303.12h5.33v5.34h-5.33zM252.70 303.12h5.33v5.34h-5.33zM266.96 303.12h5.33v5.34h-5.33zM281.21 303.12h5.33v5.34h-5.33zM288.34 303.12h5.33v5.34h-5.33zM295.47 303.12h5.33v5.34h-5.33zM302.60 303.12h5.33v5.34h-5.33zM331.11 303.12h5.33v5.34h-5.33zM373.88 303.12h5.33v5.34h-5.33zM381.01 303.12h5.33v5.34h-5.33zM402.39 303.12h5.33v5.34h-5.33zM231.32 310.26h5.33v5.34h-5.33zM281.21 310.26h5.33v5.34h-5.33zM288.34 310.26h5.33v5.34h-5.33zM45.99 317.40h5.33v5.34h-5.33zM145.78 317.40h5.33v5.34h-5.33zM152.91 317.40h5.33v5.34h-5.33zM245.57 317.40h5.33v5.34h-5.33zM252.70 317.40h5.33v5.34h-5.33zM281.21 317.40h5.33v5.34h-5.33zM288.34 317.40h5.33v5.34h-5.33zM309.73 317.40h5.33v5.34h-5.33zM381.01 317.40h5.33v5.34h-5.33zM395.26 317.40h5.33v5.34h-5.33zM409.52 317.40h5.33v5.34h-5.33zM45.99 324.53h5.33v5.34h-5.33zM53.12 324.53h5.33v5.34h-5.33zM138.65 324.53h5.33v5.34h-5.33zM45.99 331.67h5.33v5.34h-5.33zM53.12 331.67h5.33v5.34h-5.33zM152.91 331.67h5.33v5.34h-5.33zM160.04 331.67h5.33v5.34h-5.33zM181.42 331.67h5.33v5.34h-5.33zM281.21 331.67h5.33v5.34h-5.33zM288.34 331.67h5.33v5.34h-5.33zM295.47 331.67h5.33v5.34h-5.33zM309.73 331.67h5.33v5.34h-5.33zM316.85 331.67h5.33v5.34h-5.33zM359.62 331.67h5.33v5.34h-5.33zM381.01 331.67h5.33v5.34h-5.33zM409.52 331.67h5.33v5.34h-5.33zM60.25 338.81h5.33v5.34h-5.33zM117.27 338.81h5.33v5.34h-5.33zM195.68 338.81h5.33v5.34h-5.33zM209.93 338.81h5.33v5.34h-5.33zM281.21 338.81h5.33v5.34h-5.33zM288.34 338.81h5.33v5.34h-5.33zM167.17 345.94h5.33v5.34h-5.33zM302.60 345.94h5.33v5.34h-5.33zM309.73 345.94h5.33v5.34h-5.33zM323.98 345.94h5.33v5.34h-5.33zM416.65 345.94h5.33v5.34h-5.33zM45.99 353.08h5.33v5.34h-5.33zM60.25 353.08h5.33v5.34h-5.33zM231.32 353.08h5.33v5.34h-5.33zM266.96 353.08h5.33v5.34h-5.33zM295.47 353.08h5.33v5.34h-5.33zM331.11 353.08h5.33v5.34h-5.33zM209.93 360.22h5.33v5.34h-5.33zM231.32 360.22h5.33v5.34h-5.33zM274.09 360.22h5.33v5.34h-5.33zM281.21 360.22h5.33v5.34h-5.33zM302.60 360.22h5.33v5.34h-5.33zM309.73 360.22h5.33v5.34h-5.33zM323.98 360.22h5.33v5.34h-5.33zM373.88 360.22h5.33v5.34h-5.33zM388.13 360.22h5.33v5.34h-5.33zM117.27 367.36h5.33v5.34h-5.33zM195.68 367.36h5.33v5.34h-5.33zM302.60 367.36h5.33v5.34h-5.33zM309.73 367.36h5.33v5.34h-5.33zM323.98 367.36h5.33v5.34h-5.33zM352.49 367.36h5.33v5.34h-5.33zM60.25 374.49h5.33v5.34h-5.33zM103.01 374.49h5.33v5.34h-5.33zM195.68 374.49h5.33v5.34h-5.33zM302.60 374.49h5.33v5.34h-5.33zM381.01 374.49h5.33v5.34h-5.33z"/>
<path fill="#f8ccec" d="M388.13 24.78h5.33v5.34h-5.33zM45.99 39.05h5.33v5.34h-5.33zM53.12 39.05h5.33v5.34h-5.33zM60.25 39.05h5.33v5.34h-5.33zM274.09 39.05h5.33v5.34h-5.33zM359.62 39.05h5.33v5.34h-5.33zM402.39 39.05h5.33v5.34h-5.33zM252.70 46.19h5.33v5.34h-5.33zM302.60 46.19h5.33v5.34h-5.33zM309.73 46.19h5.33v5.34h-5.33zM359.62 46.19h5.33v5.34h-5.33zM402.39 46.19h5.33v5.34h-5.33zM174.29 53.33h5.33v5.34h-5.33zM245.57 53.33h5.33v5.34h-5.33zM309.73 53.33h5.33v5.34h-5.33zM359.62 53.33h5.33v5.34h-5.33zM402.39 53.33h5.33v5.34h-5.33zM416.65 53.33h5.33v5.34h-5.33zM74.50 60.46h5.33v5.34h-5.33zM274.09 60.46h5.33v5.34h-5.33zM295.47 60.46h5.33v5.34h-5.33zM345.37 60.46h5.33v5.34h-5.33zM45.99 67.60h5.33v5.34h-5.33zM231.32 67.60h5.33v5.34h-5.33zM53.12 74.74h5.33v5.34h-5.33zM345.37 74.74h5.33v5.34h-5.33zM352.49 74.74h5.33v5.34h-5.33zM381.01 74.74h5.33v5.34h-5.33zM395.26 74.74h5.33v5.34h-5.33zM266.96 81.88h5.33v5.34h-5.33zM274.09 81.88h5.33v5.34h-5.33zM352.49 81.88h5.33v5.34h-5.33zM409.52 81.88h5.33v5.34h-5.33zM245.57 89.01h5.33v5.34h-5.33zM281.21 89.01h5.33v5.34h-5.33zM288.34 89.01h5.33v5.34h-5.33zM295.47 89.01h5.33v5.34h-5.33zM195.68 96.15h5.33v5.34h-5.33zM209.93 96.15h5.33v5.34h-5.33zM266.96 96.15h5.33v5.34h-5.33zM309.73 96.15h5.33v5.34h-5.33zM381.01 96.15h5.33v5.34h-5.33zM395.26 96.15h5.33v5.34h-5.33zM416.65 96.15h5.33v5.34h-5.33zM88.76 103.29h5.33v5.34h-5.33zM124.40 103.29h5.33v5.34h-5.33zM174.29 103.29h5.33v5.34h-5.33zM274.09 103.29h5.33v5.34h-5.33zM53.12 110.42h5.33v5.34h-5.33zM95.89 110.42h5.33v5.34h-5.33zM209.93 110.42h5.33v5.34h-5.33zM395.26 110.42h5.33v5.34h-5.33zM209.93 117.56h5.33v5.34h-5.33zM302.60 117.56h5.33v5.34h-5.33zM409.52 117.56h5.33v5.34h-5.33zM138.65 124.70h5.33v5.34h-5.33zM209.93 124.70h5.33v5.34h-5.33zM195.68 131.84h5.33v5.34h-5.33zM231.32 131.84h5.33v5.34h-5.33zM309.73 131.84h5.33v5.34h-5.33zM338.24 131.84h5.33v5.34h-5.33zM373.88 131.84h5.33v5.34h-5.33zM402.39 131.84h5.33v5.34h-5.33zM416.65 131.84h5.33v5.34h-5.33zM174.29 138.97h5.33v5.34h-5.33zM217.06 138.97h5.33v5.34h-5.33zM366.75 138.97h5.33v5.34h-5.33zM402.39 138.97h5.33v5.34h-5.33zM45.99 146.11h5.33v5.34h-5.33zM53.12 146.11h5.33v5.34h-5.33zM245.57 146.11h5.33v5.34h-5.33zM323.98 146.11h5.33v5.34h-5.33zM395.26 146.11h5.33v5.34h-5.33zM224.19 153.25h5.33v5.34h-5.33zM281.21 153.25h5.33v5.34h-5.33zM381.01 153.25h5.33v5.34h-5.33zM409.52 153.25h5.33v5.34h-5.33zM416.65 153.25h5.33v5.34h-5.33zM88.76 160.38h5.33v5.34h-5.33zM231.32 160.38h5.33v5.34h-5.33zM281.21 160.38h5.33v5.34h-5.33zM288.34 160.38h5.33v5.34h-5.33zM316.85 160.38h5.33v5.34h-5.33zM345.37 160.38h5.33v5.34h-5.33zM402.39 160.38h5.33v5.34h-5.33zM416.65 160.38h5.33v5.34h-5.33zM88.76 167.52h5.33v5.34h-5.33zM117.27 167.52h5.33v5.34h-5.33zM202.81 167.52h5.33v5.34h-5.33zM359.62 167.52h5.33v5.34h-5.33zM366.75 167.52h5.33v5.34h-5.33zM402.39 167.52h5.33v5.34h-5.33zM252.70 174.66h5.33v5.34h-5.33zM309.73 174.66h5.33v5.34h-5.33zM366.75 174.66h5.33v5.34h-5.33zM53.12 181.79h5.33v5.34h-5.33zM217.06 181.79h5.33v5.34h-5.33zM45.99 188.93h5.33v5.34h-5.33zM167.17 188.93h5.33v5.34h-5.33zM174.29 188.93h5.33v5.34h-5.33zM217.06 188.93h5.33v5.34h-5.33zM245.57 188.93h5.33v5.34h-5.33zM402.39 188.93h5.33v5.34h-5.33zM60.25 196.07h5.33v5.34h-5.33zM124.40 196.07h5.33v5.34h-5.33zM174.29 196.07h5.33v5.34h-5.33zM202.81 196.07h5.33v5.34h-5.33zM209.93 196.07h5.33v5.34h-5.33zM409.52 196.07h5.33v5.34h-5.33zM124.40 203.20h5.33v5.34h-5.33zM167.17 203.20h5.33v5.34h-5.33zM209.93 203.20h5.33v5.34h-5.33zM245.57 203.20h5.33v5.34h-5.33zM309.73 203.20h5.33v5.34h-5.33zM366.75 203.20h5.33v5.34h-5.33zM45.99 210.34h5.33v5.34h-5.33zM60.25 210.34h5.33v5.34h-5.33zM74.50 210.34h5.33v5.34h-5.33zM88.76 210.34h5.33v5.34h-5.33zM224.19 210.34h5.33v5.34h-5.33zM302.60 210.34h5.33v5.34h-5.33zM402.39 210.34h5.33v5.34h-5.33zM416.65 210.34h5.33v5.34h-5.33zM81.63 217.48h5.33v5.34h-5.33zM88.76 217.48h5.33v5.34h-5.33zM117.27 217.48h5.33v5.34h-5.33zM174.29 217.48h5.33v5.34h-5.33zM231.32 217.48h5.33v5.34h-5.33zM245.57 217.48h5.33v5.34h-5.33zM409.52 217.48h5.33v5.34h-5.33zM117.27 224.62h5.33v5.34h-5.33zM174.29 224.62h5.33v5.34h-5.33zM195.68 224.62h5.33v5.34h-5.33zM274.09 224.62h5.33v5.34h-5.33zM302.60 224.62h5.33v5.34h-5.33zM402.39 224.62h5.33v5.34h-5.33zM45.99 231.75h5.33v5.34h-5.33zM53.12 231.75h5.33v5.34h-5.33zM81.63 231.75h5.33v5.34h-5.33zM103.01 231.75h5.33v5.34h-5.33zM160.04 231.75h5.33v5.34h-5.33zM238.45 231.75h5.33v5.34h-5.33zM331.11 231.75h5.33v5.34h-5.33zM103.01 238.89h5.33v5.34h-5.33zM45.99 246.03h5.33v5.34h-5.33zM366.75 246.03h5.33v5.34h-5.33zM67.37 253.16h5.33v5.34h-5.33zM195.68 253.16h5.33v5.34h-5.33zM209.93 253.16h5.33v5.34h-5.33zM266.96 253.16h5.33v5.34h-5.33zM381.01 253.16h5.33v5.34h-5.33zM402.39 253.16h5.33v5.34h-5.33zM409.52 253.16h5.33v5.34h-5.33zM60.25 260.30h5.33v5.34h-5.33zM81.63 260.30h5.33v5.34h-5.33zM95.89 260.30h5.33v5.34h-5.33zM138.65 260.30h5.33v5.34h-5.33zM195.68 260.30h5.33v5.34h-5.33zM217.06 260.30h5.33v5.34h-5.33zM231.32 260.30h5.33v5.34h-5.33zM373.88 260.30h5.33v5.34h-5.33zM402.39 260.30h5.33v5.34h-5.33zM409.52 260.30h5.33v5.34h-5.33zM74.50 267.44h5.33v5.34h-5.33zM110.14 267.44h5.33v5.34h-5.33zM152.91 267.44h5.33v5.34h-5.33zM167.17 267.44h5.33v5.34h-5.33zM174.29 267.44h5.33v5.34h-5.33zM231.32 267.44h5.33v5.34h-5.33zM238.45 267.44h5.33v5.34h-5.33zM345.37 267.44h5.33v5.34h-5.33zM81.63 274.57h5.33v5.34h-5.33zM124.40 274.57h5.33v5.34h-5.33zM181.42 274.57h5.33v5.34h-5.33zM231.32 274.57h5.33v5.34h-5.33zM281.21 274.57h5.33v5.34h-5.33zM110.14 281.71h5.33v5.34h-5.33zM167.17 281.71h5.33v5.34h-5.33zM323.98 281.71h5.33v5.34h-5.33zM402.39 281.71h5.33v5.34h-5.33zM45.99 288.85h5.33v5.34h-5.33zM53.12 288.85h5.33v5.34h-5.33zM195.68 288.85h5.33v5.34h-5.33zM302.60 288.85h5.33v5.34h-5.33zM402.39 288.85h5.33v5.34h-5.33zM160.04 295.99h5.33v5.34h-5.33zM217.06 295.99h5.33v5.34h-5.33zM302.60 295.99h5.33v5.34h-5.33zM366.75 295.99h5.33v5.34h-5.33zM381.01 295.99h5.33v5.34h-5.33zM45.99 303.12h5.33v5.34h-5.33zM74.50 303.12h5.33v5.34h-5.33zM110.14 303.12h5.33v5.34h-5.33zM124.40 303.12h5.33v5.34h-5.33zM160.04 303.12h5.33v5.34h-5.33zM238.45 303.12h5.33v5.34h-5.33zM274.09 303.12h5.33v5.34h-5.33zM323.98 303.12h5.33v5.34h-5.33zM359.62 303.12h5.33v5.34h-5.33zM81.63 310.26h5.33v5.34h-5.33zM117.27 310.26h5.33v5.34h-5.33zM124.40 310.26h5.33v5.34h-5.33zM138.65 310.26h5.33v5.34h-5.33zM188.55 310.26h5.33v5.34h-5.33zM202.81 310.26h5.33v5.34h-5.33zM209.93 310.26h5.33v5.34h-5.33zM402.39 310.26h5.33v5.34h-5.33zM188.55 317.40h5.33v5.34h-5.33zM338.24 317.40h5.33v5.34h-5.33zM195.68 324.53h5.33v5.34h-5.33zM60.25 331.67h5.33v5.34h-5.33zM124.40 331.67h5.33v5.34h-5.33zM145.78 331.67h5.33v5.34h-5.33zM231.32 331.67h5.33v5.34h-5.33zM274.09 331.67h5.33v5.34h-5.33zM323.98 331.67h5.33v5.34h-5.33zM88.76 338.81h5.33v5.34h-5.33zM131.53 338.81h5.33v5.34h-5.33zM160.04 338.81h5.33v5.34h-5.33zM202.81 338.81h5.33v5.34h-5.33zM274.09 338.81h5.33v5.34h-5.33zM338.24 338.81h5.33v5.34h-5.33zM152.91 345.94h5.33v5.34h-5.33zM195.68 345.94h5.33v5.34h-5.33zM395.26 345.94h5.33v5.34h-5.33zM103.01 353.08h5.33v5.34h-5.33zM167.17 353.08h5.33v5.34h-5.33zM174.29 353.08h5.33v5.34h-5.33zM409.52 353.08h5.33v5.34h-5.33zM74.50 360.22h5.33v5.34h-5.33zM124.40 360.22h5.33v5.34h-5.33zM174.29 360.22h5.33v5.34h-5.33zM45.99 367.36h5.33v5.34h-5.33zM103.01 367.36h5.33v5.34h-5.33zM209.93 367.36h5.33v5.34h-5.33zM409.52 367.36h5.33v5.34h-5.33zM167.17 374.49h5.33v5.34h-5.33z"/>
<path fill="#f68c8c" d="M309.73 24.78h5.33v5.34h-5.33zM366.75 24.78h5.33v5.34h-5.33zM309.73 31.92h5.33v5.34h-5.33zM359.62 31.92h5.33v5.34h-5.33zM366.75 31.92h5.33v5.34h-5.33zM381.01 31.92h5.33v5.34h-5.33zM388.13 31.92h5.33v5.34h-5.33zM295.47 39.05h5.33v5.34h-5.33zM302.60 39.05h5.33v5.34h-5.33zM373.88 39.05h5.33v5.34h-5.33zM388.13 39.05h5.33v5.34h-5.33zM409.52 39.05h5.33v5.34h-5.33zM259.83 46.19h5.33v5.34h-5.33zM266.96 46.19h5.33v5.34h-5.33zM352.49 46.19h5.33v5.34h-5.33zM409.52 46.19h5.33v5.34h-5.33zM416.65 46.19h5.33v5.34h-5.33zM209.93 53.33h5.33v5.34h-5.33zM281.21 53.33h5.33v5.34h-5.33zM302.60 53.33h5.33v5.34h-5.33zM316.85 53.33h5.33v5.34h-5.33zM338.24 53.33h5.33v5.34h-5.33zM381.01 53.33h5.33v5.34h-5.33zM409.52 53.33h5.33v5.34h-5.33zM167.17 60.46h5.33v5.34h-5.33zM174.29 60.46h5.33v5.34h-5.33zM209.93 60.46h5.33v5.34h-5.33zM245.57 60.46h5.33v5.34h-5.33zM266.96 60.46h5.33v5.34h-5.33zM309.73 60.46h5.33v5.34h-5.33zM316.85 60.46h5.33v5.34h-5.33zM323.98 60.46h5.33v5.34h-5.33zM359.62 60.46h5.33v5.34h-5.33zM409.52 60.46h5.33v5.34h-5.33zM302.60 67.60h5.33v5.34h-5.33zM359.62 67.60h5.33v5.34h-5.33zM373.88 67.60h5.33v5.34h-5.33zM388.13 67.60h5.33v5.34h-5.33zM395.26 67.60h5.33v5.34h-5.33zM60.25 74.74h5.33v5.34h-5.33zM309.73 74.74h5.33v5.34h-5.33zM316.85 74.74h5.33v5.34h-5.33zM366.75 74.74h5.33v5.34h-5.33zM373.88 74.74h5.33v5.34h-5.33zM388.13 74.74h5.33v5.34h-5.33zM245.57 81.88h5.33v5.34h-5.33zM309.73 81.88h5.33v5.34h-5.33zM316.85 81.88h5.33v5.34h-5.33zM359.62 81.88h5.33v5.34h-5.33zM381.01 81.88h5.33v5.34h-5.33zM402.39 81.88h5.33v5.34h-5.33zM231.32 89.01h5.33v5.34h-5.33zM331.11 89.01h5.33v5.34h-5.33zM373.88 89.01h5.33v5.34h-5.33zM388.13 89.01h5.33v5.34h-5.33zM245.57 96.15h5.33v5.34h-5.33zM259.83 96.15h5.33v5.34h-5.33zM281.21 96.15h5.33v5.34h-5.33zM295.47 96.15h5.33v5.34h-5.33zM316.85 96.15h5.33v5.34h-5.33zM323.98 96.15h5.33v5.34h-5.33zM338.24 96.15h5.33v5.34h-5.33zM345.37 96.15h5.33v5.34h-5.33zM373.88 96.15h5.33v5.34h-5.33zM388.13 96.15h5.33v5.34h-5.33zM45.99 103.29h5.33v5.34h-5.33zM53.12 103.29h5.33v5.34h-5.33zM202.81 103.29h5.33v5.34h-5.33zM252.70 103.29h5.33v5.34h-5.33zM266.96 103.29h5.33v5.34h-5.33zM281.21 103.29h5.33v5.34h-5.33zM373.88 103.29h5.33v5.34h-5.33zM381.01 103.29h5.33v5.34h-5.33zM388.13 103.29h5.33v5.34h-5.33zM395.26 103.29h5.33v5.34h-5.33zM409.52 103.29h5.33v5.34h-5.33zM202.81 110.42h5.33v5.34h-5.33zM217.06 110.42h5.33v5.34h-5.33zM245.57 110.42h5.33v5.34h-5.33zM281.21 110.42h5.33v5.34h-5.33zM302.60 110.42h5.33v5.34h-5.33zM309.73 110.42h5.33v5.34h-5.33zM323.98 110.42h5.33v5.34h-5.33zM331.11 110.42h5.33v5.34h-5.33zM338.24 110.42h5.33v5.34h-5.33zM345.37 110.42h5.33v5.34h-5.33zM409.52 110.42h5.33v5.34h-5.33zM245.57 117.56h5.33v5.34h-5.33zM266.96 117.56h5.33v5.34h-5.33zM309.73 117.56h5.33v5.34h-5.33zM245.57 124.70h5.33v5.34h-5.33zM259.83 124.70h5.33v5.34h-5.33zM288.34 124.70h5.33v5.34h-5.33zM316.85 124.70h5.33v5.34h-5.33zM323.98 124.70h5.33v5.34h-5.33zM345.37 124.70h5.33v5.34h-5.33zM366.75 124.70h5.33v5.34h-5.33zM381.01 124.70h5.33v5.34h-5.33zM388.13 124.70h5.33v5.34h-5.33zM409.52 124.70h5.33v5.34h-5.33zM416.65 124.70h5.33v5.34h-5.33zM209.93 131.84h5.33v5.34h-5.33zM252.70 131.84h5.33v5.34h-5.33zM266.96 131.84h5.33v5.34h-5.33zM281.21 131.84h5.33v5.34h-5.33zM323.98 131.84h5.33v5.34h-5.33zM388.13 131.84h5.33v5.34h-5.33zM409.52 131.84h5.33v5.34h-5.33zM252.70 138.97h5.33v5.34h-5.33zM302.60 138.97h5.33v5.34h-5.33zM309.73 138.97h5.33v5.34h-5.33zM316.85 138.97h5.33v5.34h-5.33zM338.24 138.97h5.33v5.34h-5.33zM395.26 138.97h5.33v5.34h-5.33zM409.52 138.97h5.33v5.34h-5.33zM266.96 146.11h5.33v5.34h-5.33zM302.60 146.11h5.33v5.34h-5.33zM259.83 153.25h5.33v5.34h-5.33zM288.34 153.25h5.33v5.34h-5.33zM295.47 153.25h5.33v5.34h-5.33zM316.85 153.25h5.33v5.34h-5.33zM388.13 153.25h5.33v5.34h-5.33zM395.26 153.25h5.33v5.34h-5.33zM117.27 160.38h5.33v5.34h-5.33zM145.78 160.38h5.33v5.34h-5.33zM202.81 160.38h5.33v5.34h-5.33zM259.83 160.38h5.33v5.34h-5.33zM266.96 160.38h5.33v5.34h-5.33zM295.47 160.38h5.33v5.34h-5.33zM331.11 160.38h5.33v5.34h-5.33zM338.24 160.38h5.33v5.34h-5.33zM45.99 167.52h5.33v5.34h-5.33zM74.50 167.52h5.33v5.34h-5.33zM252.70 167.52h5.33v5.34h-5.33zM295.47 167.52h5.33v5.34h-5.33zM323.98 167.52h5.33v5.34h-5.33zM331.11 167.52h5.33v5.34h-5.33zM352.49 167.52h5.33v5.34h-5.33zM395.26 167.52h5.33v5.34h-5.33zM409.52 167.52h5.33v5.34h-5.33zM88.76 174.66h5.33v5.34h-5.33zM124.40 174.66h5.33v5.34h-5.33zM202.81 174.66h5.33v5.34h-5.33zM217.06 174.66h5.33v5.34h-5.33zM245.57 174.66h5.33v5.34h-5.33zM323.98 174.66h5.33v5.34h-5.33zM338.24 174.66h5.33v5.34h-5.33zM381.01 174.66h5.33v5.34h-5.33zM402.39 174.66h5.33v5.34h-5.33zM416.65 174.66h5.33v5.34h-5.33zM245.57 181.79h5.33v5.34h-5.33zM252.70 181.79h5.33v5.34h-5.33zM259.83 181.79h5.33v5.34h-5.33zM266.96 181.79h5.33v5.34h-5.33zM274.09 181.79h5.33v5.34h-5.33zM309.73 181.79h5.33v5.34h-5.33zM316.85 181.79h5.33v5.34h-5.33zM323.98 181.79h5.33v5.34h-5.33zM338.24 181.79h5.33v5.34h-5.33zM345.37 181.79h5.33v5.34h-5.33zM352.49 181.79h5.33v5.34h-5.33zM373.88 181.79h5.33v5.34h-5.33zM131.53 188.93h5.33v5.34h-5.33zM138.65 188.93h5.33v5.34h-5.33zM145.78 188.93h5.33v5.34h-5.33zM152.91 188.93h5.33v5.34h-5.33zM160.04 188.93h5.33v5.34h-5.33zM195.68 188.93h5.33v5.34h-5.33zM238.45 188.93h5.33v5.34h-5.33zM45.99 196.07h5.33v5.34h-5.33zM67.37 196.07h5.33v5.34h-5.33zM74.50 196.07h5.33v5.34h-5.33zM110.14 196.07h5.33v5.34h-5.33zM131.53 196.07h5.33v5.34h-5.33zM145.78 196.07h5.33v5.34h-5.33zM160.04 196.07h5.33v5.34h-5.33zM195.68 196.07h5.33v5.34h-5.33zM224.19 196.07h5.33v5.34h-5.33zM231.32 196.07h5.33v5.34h-5.33zM238.45 196.07h5.33v5.34h-5.33zM88.76 203.20h5.33v5.34h-5.33zM95.89 203.20h5.33v5.34h-5.33zM103.01 203.20h5.33v5.34h-5.33zM110.14 203.20h5.33v5.34h-5.33zM138.65 203.20h5.33v5.34h-5.33zM67.37 210.34h5.33v5.34h-5.33zM110.14 210.34h5.33v5.34h-5.33zM131.53 210.34h5.33v5.34h-5.33zM145.78 210.34h5.33v5.34h-5.33zM188.55 210.34h5.33v5.34h-5.33zM195.68 210.34h5.33v5.34h-5.33zM217.06 210.34h5.33v5.34h-5.33zM238.45 210.34h5.33v5.34h-5.33zM110.14 217.48h5.33v5.34h-5.33zM181.42 217.48h5.33v5.34h-5.33zM188.55 217.48h5.33v5.34h-5.33zM238.45 217.48h5.33v5.34h-5.33zM67.37 224.62h5.33v5.34h-5.33zM88.76 224.62h5.33v5.34h-5.33zM131.53 224.62h5.33v5.34h-5.33zM138.65 224.62h5.33v5.34h-5.33zM152.91 224.62h5.33v5.34h-5.33zM202.81 224.62h5.33v5.34h-5.33zM224.19 224.62h5.33v5.34h-5.33zM88.76 231.75h5.33v5.34h-5.33zM95.89 231.75h5.33v5.34h-5.33zM110.14 231.75h5.33v5.34h-5.33zM117.27 231.75h5.33v5.34h-5.33zM124.40 231.75h5.33v5.34h-5.33zM152.91 231.75h5.33v5.34h-5.33zM174.29 231.75h5.33v5.34h-5.33zM181.42 231.75h5.33v5.34h-5.33zM195.68 231.75h5.33v5.34h-5.33zM217.06 231.75h5.33v5.34h-5.33zM309.73 231.75h5.33v5.34h-5.33zM402.39 231.75h5.33v5.34h-5.33zM53.12 238.89h5.33v5.34h-5.33zM110.14 238.89h5.33v5.34h-5.33zM124.40 238.89h5.33v5.34h-5.33zM131.53 238.89h5.33v5.34h-5.33zM145.78 238.89h5.33v5.34h-5.33zM152.91 238.89h5.33v5.34h-5.33zM181.42 238.89h5.33v5.34h-5.33zM188.55 238.89h5.33v5.34h-5.33zM195.68 238.89h5.33v5.34h-5.33zM202.81 238.89h5.33v5.34h-5.33zM224.19 238.89h5.33v5.34h-5.33zM74.50 246.03h5.33v5.34h-5.33zM117.27 246.03h5.33v5.34h-5.33zM152.91 246.03h5.33v5.34h-5.33zM160.04 246.03h5.33v5.34h-5.33zM167.17 246.03h5.33v5.34h-5.33zM174.29 246.03h5.33v5.34h-5.33zM202.81 246.03h5.33v5.34h-5.33zM224.19 246.03h5.33v5.34h-5.33zM231.32 246.03h5.33v5.34h-5.33zM238.45 246.03h5.33v5.34h-5.33zM60.25 253.16h5.33v5.34h-5.33zM110.14 253.16h5.33v5.34h-5.33zM131.53 253.16h5.33v5.34h-5.33zM174.29 253.16h5.33v5.34h-5.33zM224.19 253.16h5.33v5.34h-5.33zM238.45 253.16h5.33v5.34h-5.33zM131.53 260.30h5.33v5.34h-5.33zM181.42 260.30h5.33v5.34h-5.33zM188.55 260.30h5.33v5.34h-5.33zM202.81 260.30h5.33v5.34h-5.33zM224.19 260.30h5.33v5.34h-5.33zM95.89 267.44h5.33v5.34h-5.33zM103.01 267.44h5.33v5.34h-5.33zM145.78 267.44h5.33v5.34h-5.33zM195.68 267.44h5.33v5.34h-5.33zM224.19 267.44h5.33v5.34h-5.33zM95.89 274.57h5.33v5.34h-5.33zM117.27 274.57h5.33v5.34h-5.33zM138.65 274.57h5.33v5.34h-5.33zM195.68 274.57h5.33v5.34h-5.33zM53.12 281.71h5.33v5.34h-5.33zM74.50 281.71h5.33v5.34h-5.33zM103.01 281.71h5.33v5.34h-5.33zM117.27 281.71h5.33v5.34h-5.33zM145.78 281.71h5.33v5.34h-5.33zM181.42 281.71h5.33v5.34h-5.33zM224.19 281.71h5.33v5.34h-5.33zM238.45 281.71h5.33v5.34h-5.33zM74.50 288.85h5.33v5.34h-5.33zM88.76 288.85h5.33v5.34h-5.33zM95.89 288.85h5.33v5.34h-5.33zM110.14 288.85h5.33v5.34h-5.33zM131.53 288.85h5.33v5.34h-5.33zM181.42 288.85h5.33v5.34h-5.33zM202.81 288.85h5.33v5.34h-5.33zM238.45 288.85h5.33v5.34h-5.33zM67.37 295.99h5.33v5.34h-5.33zM81.63 295.99h5.33v5.34h-5.33zM117.27 295.99h5.33v5.34h-5.33zM131.53 295.99h5.33v5.34h-5.33zM188.55 295.99h5.33v5.34h-5.33zM195.68 295.99h5.33v5.34h-5.33zM202.81 295.99h5.33v5.34h-5.33zM209.93 295.99h5.33v5.34h-5.33zM231.32 295.99h5.33v5.34h-5.33zM238.45 295.99h5.33v5.34h-5.33zM274.09 295.99h5.33v5.34h-5.33zM53.12 303.12h5.33v5.34h-5.33zM81.63 303.12h5.33v5.34h-5.33zM95.89 303.12h5.33v5.34h-5.33zM117.27 303.12h5.33v5.34h-5.33zM138.65 303.12h5.33v5.34h-5.33zM145.78 303.12h5.33v5.34h-5.33zM188.55 303.12h5.33v5.34h-5.33zM209.93 303.12h5.33v5.34h-5.33zM217.06 303.12h5.33v5.34h-5.33zM224.19 303.12h5.33v5.34h-5.33zM53.12 310.26h5.33v5.34h-5.33zM88.76 310.26h5.33v5.34h-5.33zM95.89 310.26h5.33v5.34h-5.33zM103.01 310.26h5.33v5.34h-5.33zM131.53 310.26h5.33v5.34h-5.33zM145.78 310.26h5.33v5.34h-5.33zM181.42 310.26h5.33v5.34h-5.33zM195.68 310.26h5.33v5.34h-5.33zM224.19 310.26h5.33v5.34h-5.33zM67.37 317.40h5.33v5.34h-5.33zM117.27 317.40h5.33v5.34h-5.33zM131.53 317.40h5.33v5.34h-5.33zM138.65 317.40h5.33v5.34h-5.33zM160.04 317.40h5.33v5.34h-5.33zM174.29 317.40h5.33v5.34h-5.33zM195.68 317.40h5.33v5.34h-5.33zM217.06 317.40h5.33v5.34h-5.33zM231.32 317.40h5.33v5.34h-5.33zM238.45 317.40h5.33v5.34h-5.33zM74.50 324.53h5.33v5.34h-5.33zM88.76 324.53h5.33v5.34h-5.33zM145.78 324.53h5.33v5.34h-5.33zM174.29 324.53h5.33v5.34h-5.33zM181.42 324.53h5.33v5.34h-5.33zM209.93 324.53h5.33v5.34h-5.33zM217.06 324.53h5.33v5.34h-5.33zM224.19 324.53h5.33v5.34h-5.33zM110.14 331.67h5.33v5.34h-5.33zM117.27 331.67h5.33v5.34h-5.33zM131.53 331.67h5.33v5.34h-5.33zM174.29 331.67h5.33v5.34h-5.33zM217.06 331.67h5.33v5.34h-5.33zM224.19 331.67h5.33v5.34h-5.33zM238.45 331.67h5.33v5.34h-5.33zM402.39 331.67h5.33v5.34h-5.33zM45.99 338.81h5.33v5.34h-5.33zM74.50 338.81h5.33v5.34h-5.33zM95.89 338.81h5.33v5.34h-5.33zM110.14 338.81h5.33v5.34h-5.33zM145.78 338.81h5.33v5.34h-5.33zM167.17 338.81h5.33v5.34h-5.33zM238.45 338.81h5.33v5.34h-5.33zM381.01 338.81h5.33v5.34h-5.33zM103.01 345.94h5.33v5.34h-5.33zM160.04 345.94h5.33v5.34h-5.33zM202.81 345.94h5.33v5.34h-5.33zM209.93 345.94h5.33v5.34h-5.33zM409.52 345.94h5.33v5.34h-5.33zM88.76 353.08h5.33v5.34h-5.33zM110.14 353.08h5.33v5.34h-5.33zM117.27 353.08h5.33v5.34h-5.33zM124.40 353.08h5.33v5.34h-5.33zM131.53 353.08h5.33v5.34h-5.33zM181.42 353.08h5.33v5.34h-5.33zM209.93 353.08h5.33v5.34h-5.33zM224.19 353.08h5.33v5.34h-5.33zM238.45 353.08h5.33v5.34h-5.33zM402.39 353.08h5.33v5.34h-5.33zM53.12 360.22h5.33v5.34h-5.33zM60.25 360.22h5.33v5.34h-5.33zM81.63 360.22h5.33v5.34h-5.33zM95.89 360.22h5.33v5.34h-5.33zM103.01 360.22h5.33v5.34h-5.33zM110.14 360.22h5.33v5.34h-5.33zM117.27 360.22h5.33v5.34h-5.33zM138.65 360.22h5.33v5.34h-5.33zM145.78 360.22h5.33v5.34h-5.33zM152.91 360.22h5.33v5.34h-5.33zM160.04 360.22h5.33v5.34h-5.33zM188.55 360.22h5.33v5.34h-5.33zM195.68 360.22h5.33v5.34h-5.33zM224.19 360.22h5.33v5.34h-5.33zM238.45 360.22h5.33v5.34h-5.33zM331.11 360.22h5.33v5.34h-5.33zM395.26 360.22h5.33v5.34h-5.33zM416.65 360.22h5.33v5.34h-5.33zM53.12 367.36h5.33v5.34h-5.33zM60.25 367.36h5.33v5.34h-5.33zM74.50 367.36h5.33v5.34h-5.33zM131.53 367.36h5.33v5.34h-5.33zM145.78 367.36h5.33v5.34h-5.33zM174.29 367.36h5.33v5.34h-5.33zM202.81 367.36h5.33v5.34h-5.33zM238.45 367.36h5.33v5.34h-5.33zM338.24 367.36h5.33v5.34h-5.33zM395.26 367.36h5.33v5.34h-5.33zM45.99 374.49h5.33v5.34h-5.33zM131.53 374.49h5.33v5.34h-5.33zM160.04 374.49h5.33v5.34h-5.33zM209.93 374.49h5.33v5.34h-5.33zM217.06 374.49h5.33v5.34h-5.33zM266.96 374.49h5.33v5.34h-5.33zM416.65 374.49h5.33v5.34h-5.33z"/>
<path fill="#f65a5a" d="M266.96 24.78h5.33v5.34h-5.33zM274.09 24.78h5.33v5.34h-5.33zM323.98 24.78h5.33v5.34h-5.33zM331.11 24.78h5.33v5.34h-5.33zM352.49 24.78h5.33v5.34h-5.33zM359.62 24.78h5.33v5.34h-5.33zM381.01 24.78h5.33v5.34h-5.33zM245.57 31.92h5.33v5.34h-5.33zM252.70 31.92h5.33v5.34h-5.33zM266.96 31.92h5.33v5.34h-5.33zM274.09 31.92h5.33v5.34h-5.33zM295.47 31.92h5.33v5.34h-5.33zM323.98 31.92h5.33v5.34h-5.33zM331.11 31.92h5.33v5.34h-5.33zM352.49 31.92h5.33v5.34h-5.33zM81.63 39.05h5.33v5.34h-5.33zM231.32 39.05h5.33v5.34h-5.33zM252.70 39.05h5.33v5.34h-5.33zM266.96 39.05h5.33v5.34h-5.33zM309.73 39.05h5.33v5.34h-5.33zM316.85 39.05h5.33v5.34h-5.33zM338.24 39.05h5.33v5.34h-5.33zM352.49 39.05h5.33v5.34h-5.33zM395.26 39.05h5.33v5.34h-5.33zM202.81 46.19h5.33v5.34h-5.33zM209.93 46.19h5.33v5.34h-5.33zM245.57 46.19h5.33v5.34h-5.33zM274.09 46.19h5.33v5.34h-5.33zM281.21 46.19h5.33v5.34h-5.33zM288.34 46.19h5.33v5.34h-5.33zM316.85 46.19h5.33v5.34h-5.33zM323.98 46.19h5.33v5.34h-5.33zM331.11 46.19h5.33v5.34h-5.33zM345.37 46.19h5.33v5.34h-5.33zM366.75 46.19h5.33v5.34h-5.33zM381.01 46.19h5.33v5.34h-5.33zM388.13 46.19h5.33v5.34h-5.33zM252.70 53.33h5.33v5.34h-5.33zM266.96 53.33h5.33v5.34h-5.33zM288.34 53.33h5.33v5.34h-5.33zM352.49 53.33h5.33v5.34h-5.33zM388.13 53.33h5.33v5.34h-5.33zM53.12 60.46h5.33v5.34h-5.33zM259.83 60.46h5.33v5.34h-5.33zM331.11 60.46h5.33v5.34h-5.33zM338.24 60.46h5.33v5.34h-5.33zM252.70 67.60h5.33v5.34h-5.33zM274.09 67.60h5.33v5.34h-5.33zM295.47 67.60h5.33v5.34h-5.33zM316.85 67.60h5.33v5.34h-5.33zM331.11 67.60h5.33v5.34h-5.33zM338.24 67.60h5.33v5.34h-5.33zM352.49 67.60h5.33v5.34h-5.33zM366.75 67.60h5.33v5.34h-5.33zM245.57 74.74h5.33v5.34h-5.33zM252.70 74.74h5.33v5.34h-5.33zM259.83 74.74h5.33v5.34h-5.33zM281.21 74.74h5.33v5.34h-5.33zM288.34 74.74h5.33v5.34h-5.33zM295.47 74.74h5.33v5.34h-5.33zM323.98 74.74h5.33v5.34h-5.33zM359.62 74.74h5.33v5.34h-5.33zM252.70 81.88h5.33v5.34h-5.33zM281.21 81.88h5.33v5.34h-5.33zM295.47 81.88h5.33v5.34h-5.33zM345.37 81.88h5.33v5.34h-5.33zM366.75 81.88h5.33v5.34h-5.33zM45.99 89.01h5.33v5.34h-5.33zM259.83 89.01h5.33v5.34h-5.33zM266.96 89.01h5.33v5.34h-5.33zM302.60 89.01h5.33v5.34h-5.33zM309.73 89.01h5.33v5.34h-5.33zM316.85 89.01h5.33v5.34h-5.33zM323.98 89.01h5.33v5.34h-5.33zM345.37 89.01h5.33v5.34h-5.33zM359.62 89.01h5.33v5.34h-5.33zM381.01 89.01h5.33v5.34h-5.33zM395.26 89.01h5.33v5.34h-5.33zM416.65 89.01h5.33v5.34h-5.33zM252.70 96.15h5.33v5.34h-5.33zM274.09 96.15h5.33v5.34h-5.33zM288.34 96.15h5.33v5.34h-5.33zM331.11 96.15h5.33v5.34h-5.33zM352.49 96.15h5.33v5.34h-5.33zM366.75 96.15h5.33v5.34h-5.33zM81.63 103.29h5.33v5.34h-5.33zM160.04 103.29h5.33v5.34h-5.33zM259.83 103.29h5.33v5.34h-5.33zM288.34 103.29h5.33v5.34h-5.33zM309.73 103.29h5.33v5.34h-5.33zM323.98 103.29h5.33v5.34h-5.33zM338.24 103.29h5.33v5.34h-5.33zM352.49 103.29h5.33v5.34h-5.33zM366.75 103.29h5.33v5.34h-5.33zM402.39 103.29h5.33v5.34h-5.33zM416.65 103.29h5.33v5.34h-5.33zM124.40 110.42h5.33v5.34h-5.33zM288.34 110.42h5.33v5.34h-5.33zM316.85 110.42h5.33v5.34h-5.33zM366.75 110.42h5.33v5.34h-5.33zM373.88 110.42h5.33v5.34h-5.33zM381.01 110.42h5.33v5.34h-5.33zM402.39 110.42h5.33v5.34h-5.33zM416.65 110.42h5.33v5.34h-5.33zM45.99 117.56h5.33v5.34h-5.33zM252.70 117.56h5.33v5.34h-5.33zM281.21 117.56h5.33v5.34h-5.33zM288.34 117.56h5.33v5.34h-5.33zM316.85 117.56h5.33v5.34h-5.33zM323.98 117.56h5.33v5.34h-5.33zM345.37 117.56h5.33v5.34h-5.33zM352.49 117.56h5.33v5.34h-5.33zM381.01 117.56h5.33v5.34h-5.33zM416.65 117.56h5.33v5.34h-5.33zM266.96 124.70h5.33v5.34h-5.33zM281.21 124.70h5.33v5.34h-5.33zM331.11 124.70h5.33v5.34h-5.33zM402.39 124.70h5.33v5.34h-5.33zM274.09 131.84h5.33v5.34h-5.33zM288.34 131.84h5.33v5.34h-5.33zM316.85 131.84h5.33v5.34h-5.33zM331.11 131.84h5.33v5.34h-5.33zM352.49 131.84h5.33v5.34h-5.33zM359.62 131.84h5.33v5.34h-5.33zM366.75 131.84h5.33v5.34h-5.33zM381.01 131.84h5.33v5.34h-5.33zM224.19 138.97h5.33v5.34h-5.33zM245.57 138.97h5.33v5.34h-5.33zM266.96 138.97h5.33v5.34h-5.33zM274.09 138.97h5.33v5.34h-5.33zM281.21 138.97h5.33v5.34h-5.33zM288.34 138.97h5.33v5.34h-5.33zM295.47 138.97h5.33v5.34h-5.33zM323.98 138.97h5.33v5.34h-5.33zM359.62 138.97h5.33v5.34h-5.33zM373.88 138.97h5.33v5.34h-5.33zM381.01 138.97h5.33v5.34h-5.33zM416.65 138.97h5.33v5.34h-5.33zM60.25 146.11h5.33v5.34h-5.33zM274.09 146.11h5.33v5.34h-5.33zM281.21 146.11h5.33v5.34h-5.33zM331.11 146.11h5.33v5.34h-5.33zM359.62 146.11h5.33v5.34h-5.33zM373.88 146.11h5.33v5.34h-5.33zM416.65 146.11h5.33v5.34h-5.33zM60.25 153.25h5.33v5.34h-5.33zM160.04 153.25h5.33v5.34h-5.33zM174.29 153.25h5.33v5.34h-5.33zM266.96 153.25h5.33v5.34h-5.33zM274.09 153.25h5.33v5.34h-5.33zM302.60 153.25h5.33v5.34h-5.33zM323.98 153.25h5.33v5.34h-5.33zM331.11 153.25h5.33v5.34h-5.33zM345.37 153.25h5.33v5.34h-5.33zM352.49 153.25h5.33v5.34h-5.33zM366.75 153.25h5.33v5.34h-5.33zM373.88 153.25h5.33v5.34h-5.33zM160.04 160.38h5.33v5.34h-5.33zM252.70 160.38h5.33v5.34h-5.33zM274.09 160.38h5.33v5.34h-5.33zM302.60 160.38h5.33v5.34h-5.33zM323.98 160.38h5.33v5.34h-5.33zM352.49 160.38h5.33v5.34h-5.33zM359.62 160.38h5.33v5.34h-5.33zM366.75 160.38h5.33v5.34h-5.33zM373.88 160.38h5.33v5.34h-5.33zM388.13 160.38h5.33v5.34h-5.33zM395.26 160.38h5.33v5.34h-5.33zM409.52 160.38h5.33v5.34h-5.33zM245.57 167.52h5.33v5.34h-5.33zM274.09 167.52h5.33v5.34h-5.33zM302.60 167.52h5.33v5.34h-5.33zM309.73 167.52h5.33v5.34h-5.33zM316.85 167.52h5.33v5.34h-5.33zM345.37 167.52h5.33v5.34h-5.33zM81.63 174.66h5.33v5.34h-5.33zM266.96 174.66h5.33v5.34h-5.33zM281.21 174.66h5.33v5.34h-5.33zM295.47 174.66h5.33v5.34h-5.33zM345.37 174.66h5.33v5.34h-5.33zM352.49 174.66h5.33v5.34h-5.33zM373.88 174.66h5.33v5.34h-5.33zM388.13 174.66h5.33v5.34h-5.33zM395.26 174.66h5.33v5.34h-5.33zM202.81 181.79h5.33v5.34h-5.33zM281.21 181.79h5.33v5.34h-5.33zM288.34 181.79h5.33v5.34h-5.33zM295.47 181.79h5.33v5.34h-5.33zM366.75 181.79h5.33v5.34h-5.33zM395.26 181.79h5.33v5.34h-5.33zM416.65 181.79h5.33v5.34h-5.33zM74.50 188.93h5.33v5.34h-5.33zM110.14 188.93h5.33v5.34h-5.33zM124.40 188.93h5.33v5.34h-5.33zM181.42 188.93h5.33v5.34h-5.33zM188.55 188.93h5.33v5.34h-5.33zM231.32 188.93h5.33v5.34h-5.33zM95.89 196.07h5.33v5.34h-5.33zM103.01 196.07h5.33v5.34h-5.33zM167.17 196.07h5.33v5.34h-5.33zM181.42 196.07h5.33v5.34h-5.33zM45.99 203.20h5.33v5.34h-5.33zM74.50 203.20h5.33v5.34h-5.33zM117.27 203.20h5.33v5.34h-5.33zM152.91 203.20h5.33v5.34h-5.33zM188.55 203.20h5.33v5.34h-5.33zM217.06 203.20h5.33v5.34h-5.33zM224.19 203.20h5.33v5.34h-5.33zM117.27 210.34h5.33v5.34h-5.33zM124.40 210.34h5.33v5.34h-5.33zM138.65 210.34h5.33v5.34h-5.33zM152.91 210.34h5.33v5.34h-5.33zM167.17 210.34h5.33v5.34h-5.33zM209.93 210.34h5.33v5.34h-5.33zM45.99 217.48h5.33v5.34h-5.33zM60.25 217.48h5.33v5.34h-5.33zM67.37 217.48h5.33v5.34h-5.33zM74.50 217.48h5.33v5.34h-5.33zM138.65 217.48h5.33v5.34h-5.33zM160.04 217.48h5.33v5.34h-5.33zM209.93 217.48h5.33v5.34h-5.33zM217.06 217.48h5.33v5.34h-5.33zM60.25 224.62h5.33v5.34h-5.33zM74.50 224.62h5.33v5.34h-5.33zM81.63 224.62h5.33v5.34h-5.33zM103.01 224.62h5.33v5.34h-5.33zM110.14 224.62h5.33v5.34h-5.33zM124.40 224.62h5.33v5.34h-5.33zM167.17 224.62h5.33v5.34h-5.33zM181.42 224.62h5.33v5.34h-5.33zM217.06 224.62h5.33v5.34h-5.33zM238.45 224.62h5.33v5.34h-5.33zM60.25 231.75h5.33v5.34h-5.33zM67.37 231.75h5.33v5.34h-5.33zM138.65 231.75h5.33v5.34h-5.33zM145.78 231.75h5.33v5.34h-5.33zM167.17 231.75h5.33v5.34h-5.33zM209.93 231.75h5.33v5.34h-5.33zM224.19 231.75h5.33v5.34h-5.33zM45.99 238.89h5.33v5.34h-5.33zM81.63 238.89h5.33v5.34h-5.33zM88.76 238.89h5.33v5.34h-5.33zM138.65 238.89h5.33v5.34h-5.33zM160.04 238.89h5.33v5.34h-5.33zM217.06 238.89h5.33v5.34h-5.33zM238.45 238.89h5.33v5.34h-5.33zM81.63 246.03h5.33v5.34h-5.33zM88.76 246.03h5.33v5.34h-5.33zM110.14 246.03h5.33v5.34h-5.33zM138.65 246.03h5.33v5.34h-5.33zM181.42 246.03h5.33v5.34h-5.33zM209.93 246.03h5.33v5.34h-5.33zM416.65 246.03h5.33v5.34h-5.33zM53.12 253.16h5.33v5.34h-5.33zM74.50 253.16h5.33v5.34h-5.33zM81.63 253.16h5.33v5.34h-5.33zM88.76 253.16h5.33v5.34h-5.33zM124.40 253.16h5.33v5.34h-5.33zM181.42 253.16h5.33v5.34h-5.33zM188.55 253.16h5.33v5.34h-5.33zM217.06 253.16h5.33v5.34h-5.33zM231.32 253.16h5.33v5.34h-5.33zM53.12 260.30h5.33v5.34h-5.33zM67.37 260.30h5.33v5.34h-5.33zM145.78 260.30h5.33v5.34h-5.33zM160.04 260.30h5.33v5.34h-5.33zM209.93 260.30h5.33v5.34h-5.33zM67.37 267.44h5.33v5.34h-5.33zM88.76 267.44h5.33v5.34h-5.33zM131.53 267.44h5.33v5.34h-5.33zM138.65 267.44h5.33v5.34h-5.33zM181.42 267.44h5.33v5.34h-5.33zM209.93 267.44h5.33v5.34h-5.33zM217.06 267.44h5.33v5.34h-5.33zM67.37 274.57h5.33v5.34h-5.33zM88.76 274.57h5.33v5.34h-5.33zM110.14 274.57h5.33v5.34h-5.33zM131.53 274.57h5.33v5.34h-5.33zM145.78 274.57h5.33v5.34h-5.33zM152.91 274.57h5.33v5.34h-5.33zM160.04 274.57h5.33v5.34h-5.33zM174.29 274.57h5.33v5.34h-5.33zM188.55 274.57h5.33v5.34h-5.33zM217.06 274.57h5.33v5.34h-5.33zM238.45 274.57h5.33v5.34h-5.33zM302.60 274.57h5.33v5.34h-5.33zM45.99 281.71h5.33v5.34h-5.33zM81.63 281.71h5.33v5.34h-5.33zM88.76 281.71h5.33v5.34h-5.33zM124.40 281.71h5.33v5.34h-5.33zM160.04 281.71h5.33v5.34h-5.33zM188.55 281.71h5.33v5.34h-5.33zM202.81 281.71h5.33v5.34h-5.33zM217.06 281.71h5.33v5.34h-5.33zM60.25 288.85h5.33v5.34h-5.33zM67.37 288.85h5.33v5.34h-5.33zM124.40 288.85h5.33v5.34h-5.33zM145.78 288.85h5.33v5.34h-5.33zM152.91 288.85h5.33v5.34h-5.33zM160.04 288.85h5.33v5.34h-5.33zM167.17 288.85h5.33v5.34h-5.33zM224.19 288.85h5.33v5.34h-5.33zM53.12 295.99h5.33v5.34h-5.33zM60.25 295.99h5.33v5.34h-5.33zM74.50 295.99h5.33v5.34h-5.33zM95.89 295.99h5.33v5.34h-5.33zM103.01 295.99h5.33v5.34h-5.33zM138.65 295.99h5.33v5.34h-5.33zM145.78 295.99h5.33v5.34h-5.33zM152.91 295.99h5.33v5.34h-5.33zM395.26 295.99h5.33v5.34h-5.33zM60.25 303.12h5.33v5.34h-5.33zM67.37 303.12h5.33v5.34h-5.33zM131.53 303.12h5.33v5.34h-5.33zM152.91 303.12h5.33v5.34h-5.33zM181.42 303.12h5.33v5.34h-5.33zM195.68 303.12h5.33v5.34h-5.33zM231.32 303.12h5.33v5.34h-5.33zM416.65 303.12h5.33v5.34h-5.33zM67.37 310.26h5.33v5.34h-5.33zM110.14 310.26h5.33v5.34h-5.33zM152.91 310.26h5.33v5.34h-5.33zM160.04 310.26h5.33v5.34h-5.33zM174.29 310.26h5.33v5.34h-5.33zM217.06 310.26h5.33v5.34h-5.33zM238.45 310.26h5.33v5.34h-5.33zM74.50 317.40h5.33v5.34h-5.33zM88.76 317.40h5.33v5.34h-5.33zM95.89 317.40h5.33v5.34h-5.33zM110.14 317.40h5.33v5.34h-5.33zM124.40 317.40h5.33v5.34h-5.33zM181.42 317.40h5.33v5.34h-5.33zM209.93 317.40h5.33v5.34h-5.33zM224.19 317.40h5.33v5.34h-5.33zM67.37 324.53h5.33v5.34h-5.33zM95.89 324.53h5.33v5.34h-5.33zM124.40 324.53h5.33v5.34h-5.33zM131.53 324.53h5.33v5.34h-5.33zM160.04 324.53h5.33v5.34h-5.33zM167.17 324.53h5.33v5.34h-5.33zM202.81 324.53h5.33v5.34h-5.33zM67.37 331.67h5.33v5.34h-5.33zM74.50 331.67h5.33v5.34h-5.33zM81.63 331.67h5.33v5.34h-5.33zM88.76 331.67h5.33v5.34h-5.33zM95.89 331.67h5.33v5.34h-5.33zM167.17 331.67h5.33v5.34h-5.33zM188.55 331.67h5.33v5.34h-5.33zM195.68 331.67h5.33v5.34h-5.33zM202.81 331.67h5.33v5.34h-5.33zM209.93 331.67h5.33v5.34h-5.33zM252.70 331.67h5.33v5.34h-5.33zM373.88 331.67h5.33v5.34h-5.33zM67.37 338.81h5.33v5.34h-5.33zM81.63 338.81h5.33v5.34h-5.33zM103.01 338.81h5.33v5.34h-5.33zM124.40 338.81h5.33v5.34h-5.33zM138.65 338.81h5.33v5.34h-5.33zM152.91 338.81h5.33v5.34h-5.33zM174.29 338.81h5.33v5.34h-5.33zM181.42 338.81h5.33v5.34h-5.33zM188.55 338.81h5.33v5.34h-5.33zM217.06 338.81h5.33v5.34h-5.33zM224.19 338.81h5.33v5.34h-5.33zM245.57 338.81h5.33v5.34h-5.33zM302.60 338.81h5.33v5.34h-5.33zM53.12 345.94h5.33v5.34h-5.33zM60.25 345.94h5.33v5.34h-5.33zM74.50 345.94h5.33v5.34h-5.33zM81.63 345.94h5.33v5.34h-5.33zM88.76 345.94h5.33v5.34h-5.33zM110.14 345.94h5.33v5.34h-5.33zM124.40 345.94h5.33v5.34h-5.33zM138.65 345.94h5.33v5.34h-5.33zM145.78 345.94h5.33v5.34h-5.33zM174.29 345.94h5.33v5.34h-5.33zM181.42 345.94h5.33v5.34h-5.33zM188.55 345.94h5.33v5.34h-5.33zM217.06 345.94h5.33v5.34h-5.33zM224.19 345.94h5.33v5.34h-5.33zM238.45 345.94h5.33v5.34h-5.33zM402.39 345.94h5.33v5.34h-5.33zM53.12 353.08h5.33v5.34h-5.33zM67.37 353.08h5.33v5.34h-5.33zM81.63 353.08h5.33v5.34h-5.33zM95.89 353.08h5.33v5.34h-5.33zM138.65 353.08h5.33v5.34h-5.33zM145.78 353.08h5.33v5.34h-5.33zM160.04 353.08h5.33v5.34h-5.33zM188.55 353.08h5.33v5.34h-5.33zM217.06 353.08h5.33v5.34h-5.33zM67.37 360.22h5.33v5.34h-5.33zM131.53 360.22h5.33v5.34h-5.33zM167.17 360.22h5.33v5.34h-5.33zM202.81 360.22h5.33v5.34h-5.33zM217.06 360.22h5.33v5.34h-5.33zM67.37 367.36h5.33v5.34h-5.33zM110.14 367.36h5.33v5.34h-5.33zM124.40 367.36h5.33v5.34h-5.33zM138.65 367.36h5.33v5.34h-5.33zM152.91 367.36h5.33v5.34h-5.33zM160.04 367.36h5.33v5.34h-5.33zM181.42 367.36h5.33v5.34h-5.33zM217.06 367.36h5.33v5.34h-5.33zM224.19 367.36h5.33v5.34h-5.33zM231.32 367.36h5.33v5.34h-5.33zM402.39 367.36h5.33v5.34h-5.33zM53.12 374.49h5.33v5.34h-5.33zM67.37 374.49h5.33v5.34h-5.33zM74.50 374.49h5.33v5.34h-5.33zM95.89 374.49h5.33v5.34h-5.33zM124.40 374.49h5.33v5.34h-5.33zM152.91 374.49h5.33v5.34h-5.33zM174.29 374.49h5.33v5.34h-5.33zM181.42 374.49h5.33v5.34h-5.33zM188.55 374.49h5.33v5.34h-5.33zM231.32 374.49h5.33v5.34h-5.33zM309.73 374.49h5.33v5.34h-5.33zM402.39 374.49h5.33v5.34h-5.33z"/>
<path fill="#ee4048" d="M288.34 31.92h5.33v5.34h-5.33zM373.88 31.92h5.33v5.34h-5.33zM366.75 39.05h5.33v5.34h-5.33zM381.01 39.05h5.33v5.34h-5.33zM373.88 46.19h5.33v5.34h-5.33zM259.83 53.33h5.33v5.34h-5.33zM274.09 53.33h5.33v5.34h-5.33zM281.21 60.46h5.33v5.34h-5.33zM302.60 60.46h5.33v5.34h-5.33zM345.37 67.60h5.33v5.34h-5.33zM266.96 74.74h5.33v5.34h-5.33zM288.34 81.88h5.33v5.34h-5.33zM274.09 89.01h5.33v5.34h-5.33zM295.47 103.29h5.33v5.34h-5.33zM316.85 103.29h5.33v5.34h-5.33zM345.37 103.29h5.33v5.34h-5.33zM266.96 110.42h5.33v5.34h-5.33zM352.49 110.42h5.33v5.34h-5.33zM53.12 117.56h5.33v5.34h-5.33zM295.47 117.56h5.33v5.34h-5.33zM331.11 117.56h5.33v5.34h-5.33zM338.24 117.56h5.33v5.34h-5.33zM373.88 117.56h5.33v5.34h-5.33zM388.13 117.56h5.33v5.34h-5.33zM395.26 117.56h5.33v5.34h-5.33zM373.88 124.70h5.33v5.34h-5.33zM259.83 131.84h5.33v5.34h-5.33zM209.93 138.97h5.33v5.34h-5.33zM288.34 146.11h5.33v5.34h-5.33zM295.47 146.11h5.33v5.34h-5.33zM316.85 146.11h5.33v5.34h-5.33zM345.37 146.11h5.33v5.34h-5.33zM352.49 146.11h5.33v5.34h-5.33zM366.75 146.11h5.33v5.34h-5.33zM338.24 153.25h5.33v5.34h-5.33zM373.88 167.52h5.33v5.34h-5.33zM316.85 174.66h5.33v5.34h-5.33zM67.37 188.93h5.33v5.34h-5.33zM152.91 196.07h5.33v5.34h-5.33zM60.25 203.20h5.33v5.34h-5.33zM67.37 203.20h5.33v5.34h-5.33zM145.78 203.20h5.33v5.34h-5.33zM181.42 203.20h5.33v5.34h-5.33zM181.42 210.34h5.33v5.34h-5.33zM131.53 217.48h5.33v5.34h-5.33zM167.17 217.48h5.33v5.34h-5.33zM145.78 224.62h5.33v5.34h-5.33zM131.53 231.75h5.33v5.34h-5.33zM67.37 238.89h5.33v5.34h-5.33zM103.01 246.03h5.33v5.34h-5.33zM145.78 246.03h5.33v5.34h-5.33zM95.89 253.16h5.33v5.34h-5.33zM202.81 253.16h5.33v5.34h-5.33zM74.50 260.30h5.33v5.34h-5.33zM103.01 260.30h5.33v5.34h-5.33zM110.14 260.30h5.33v5.34h-5.33zM238.45 260.30h5.33v5.34h-5.33zM188.55 267.44h5.33v5.34h-5.33zM74.50 274.57h5.33v5.34h-5.33zM103.01 274.57h5.33v5.34h-5.33zM95.89 281.71h5.33v5.34h-5.33zM152.91 281.71h5.33v5.34h-5.33zM231.32 281.71h5.33v5.34h-5.33zM174.29 288.85h5.33v5.34h-5.33zM174.29 295.99h5.33v5.34h-5.33zM402.39 324.53h5.33v5.34h-5.33zM74.50 353.08h5.33v5.34h-5.33zM152.91 353.08h5.33v5.34h-5.33zM309.73 353.08h5.33v5.34h-5.33zM416.65 353.08h5.33v5.34h-5.33zM81.63 367.36h5.33v5.34h-5.33z"/>
<path fill="#e00a0e" d="M245.57 24.78h5.33v5.34h-5.33zM252.70 24.78h5.33v5.34h-5.33zM259.83 24.78h5.33v5.34h-5.33zM281.21 24.78h5.33v5.34h-5.33zM288.34 24.78h5.33v5.34h-5.33zM316.85 24.78h5.33v5.34h-5.33zM345.37 24.78h5.33v5.34h-5.33zM373.88 24.78h5.33v5.34h-5.33zM259.83 31.92h5.33v5.34h-5.33zM281.21 31.92h5.33v5.34h-5.33zM316.85 31.92h5.33v5.34h-5.33zM345.37 31.92h5.33v5.34h-5.33zM209.93 39.05h5.33v5.34h-5.33zM245.57 39.05h5.33v5.34h-5.33zM259.83 39.05h5.33v5.34h-5.33zM281.21 39.05h5.33v5.34h-5.33zM288.34 39.05h5.33v5.34h-5.33zM323.98 39.05h5.33v5.34h-5.33zM331.11 39.05h5.33v5.34h-5.33zM345.37 39.05h5.33v5.34h-5.33zM295.47 46.19h5.33v5.34h-5.33zM295.47 53.33h5.33v5.34h-5.33zM323.98 53.33h5.33v5.34h-5.33zM331.11 53.33h5.33v5.34h-5.33zM345.37 53.33h5.33v5.34h-5.33zM366.75 53.33h5.33v5.34h-5.33zM373.88 53.33h5.33v5.34h-5.33zM252.70 60.46h5.33v5.34h-5.33zM288.34 60.46h5.33v5.34h-5.33zM352.49 60.46h5.33v5.34h-5.33zM366.75 60.46h5.33v5.34h-5.33zM373.88 60.46h5.33v5.34h-5.33zM245.57 67.60h5.33v5.34h-5.33zM259.83 67.60h5.33v5.34h-5.33zM302.60 74.74h5.33v5.34h-5.33zM331.11 74.74h5.33v5.34h-5.33zM259.83 81.88h5.33v5.34h-5.33zM323.98 81.88h5.33v5.34h-5.33zM331.11 81.88h5.33v5.34h-5.33zM373.88 81.88h5.33v5.34h-5.33zM416.65 81.88h5.33v5.34h-5.33zM252.70 89.01h5.33v5.34h-5.33zM338.24 89.01h5.33v5.34h-5.33zM352.49 89.01h5.33v5.34h-5.33zM366.75 89.01h5.33v5.34h-5.33zM302.60 96.15h5.33v5.34h-5.33zM245.57 103.29h5.33v5.34h-5.33zM331.11 103.29h5.33v5.34h-5.33zM259.83 110.42h5.33v5.34h-5.33zM295.47 110.42h5.33v5.34h-5.33zM388.13 110.42h5.33v5.34h-5.33zM259.83 117.56h5.33v5.34h-5.33zM274.09 117.56h5.33v5.34h-5.33zM366.75 117.56h5.33v5.34h-5.33zM295.47 124.70h5.33v5.34h-5.33zM295.47 131.84h5.33v5.34h-5.33zM259.83 138.97h5.33v5.34h-5.33zM331.11 138.97h5.33v5.34h-5.33zM345.37 138.97h5.33v5.34h-5.33zM388.13 138.97h5.33v5.34h-5.33zM252.70 146.11h5.33v5.34h-5.33zM259.83 146.11h5.33v5.34h-5.33zM338.24 146.11h5.33v5.34h-5.33zM245.57 153.25h5.33v5.34h-5.33zM252.70 153.25h5.33v5.34h-5.33zM309.73 160.38h5.33v5.34h-5.33zM259.83 167.52h5.33v5.34h-5.33zM281.21 167.52h5.33v5.34h-5.33zM288.34 167.52h5.33v5.34h-5.33zM416.65 167.52h5.33v5.34h-5.33zM259.83 174.66h5.33v5.34h-5.33zM288.34 174.66h5.33v5.34h-5.33zM331.11 174.66h5.33v5.34h-5.33zM302.60 181.79h5.33v5.34h-5.33zM359.62 181.79h5.33v5.34h-5.33zM388.13 181.79h5.33v5.34h-5.33zM60.25 188.93h5.33v5.34h-5.33zM95.89 188.93h5.33v5.34h-5.33zM103.01 188.93h5.33v5.34h-5.33zM224.19 188.93h5.33v5.34h-5.33zM138.65 196.07h5.33v5.34h-5.33zM188.55 196.07h5.33v5.34h-5.33zM131.53 203.20h5.33v5.34h-5.33zM231.32 203.20h5.33v5.34h-5.33zM95.89 210.34h5.33v5.34h-5.33zM103.01 210.34h5.33v5.34h-5.33zM103.01 217.48h5.33v5.34h-5.33zM145.78 217.48h5.33v5.34h-5.33zM195.68 217.48h5.33v5.34h-5.33zM160.04 224.62h5.33v5.34h-5.33zM188.55 231.75h5.33v5.34h-5.33zM231.32 231.75h5.33v5.34h-5.33zM74.50 238.89h5.33v5.34h-5.33zM95.89 238.89h5.33v5.34h-5.33zM67.37 246.03h5.33v5.34h-5.33zM131.53 246.03h5.33v5.34h-5.33zM152.91 253.16h5.33v5.34h-5.33zM160.04 253.16h5.33v5.34h-5.33zM167.17 260.30h5.33v5.34h-5.33zM45.99 267.44h5.33v5.34h-5.33zM167.17 274.57h5.33v5.34h-5.33zM138.65 281.71h5.33v5.34h-5.33zM174.29 281.71h5.33v5.34h-5.33zM138.65 288.85h5.33v5.34h-5.33zM188.55 288.85h5.33v5.34h-5.33zM217.06 288.85h5.33v5.34h-5.33zM231.32 288.85h5.33v5.34h-5.33zM167.17 295.99h5.33v5.34h-5.33zM181.42 295.99h5.33v5.34h-5.33zM224.19 295.99h5.33v5.34h-5.33zM103.01 303.12h5.33v5.34h-5.33zM167.17 303.12h5.33v5.34h-5.33zM74.50 310.26h5.33v5.34h-5.33zM103.01 317.40h5.33v5.34h-5.33zM167.17 317.40h5.33v5.34h-5.33zM81.63 324.53h5.33v5.34h-5.33zM110.14 324.53h5.33v5.34h-5.33zM152.91 324.53h5.33v5.34h-5.33zM188.55 324.53h5.33v5.34h-5.33zM238.45 324.53h5.33v5.34h-5.33zM103.01 331.67h5.33v5.34h-5.33zM138.65 331.67h5.33v5.34h-5.33zM231.32 338.81h5.33v5.34h-5.33zM67.37 345.94h5.33v5.34h-5.33zM95.89 345.94h5.33v5.34h-5.33zM131.53 345.94h5.33v5.34h-5.33zM202.81 353.08h5.33v5.34h-5.33zM45.99 360.22h5.33v5.34h-5.33zM181.42 360.22h5.33v5.34h-5.33zM88.76 367.36h5.33v5.34h-5.33zM95.89 367.36h5.33v5.34h-5.33zM188.55 367.36h5.33v5.34h-5.33zM81.63 374.49h5.33v5.34h-5.33zM88.76 374.49h5.33v5.34h-5.33zM110.14 374.49h5.33v5.34h-5.33zM138.65 374.49h5.33v5.34h-5.33zM145.78 374.49h5.33v5.34h-5.33zM202.81 374.49h5.33v5.34h-5.33zM224.19 374.49h5.33v5.34h-5.33zM238.45 374.49h5.33v5.34h-5.33z"/>
<text transform="translate(429.00,30.98) scale(0.9,1)" font-size="9.6" font-style="italic" stroke="#000" stroke-width="0.45" fill="#000">CD1E</text>
<text transform="translate(429.00,38.12) scale(0.9,1)" font-size="9.6" font-style="italic" stroke="#000" stroke-width="0.45" fill="#000">CD1B</text>
<text transform="translate(429.00,45.25) scale(0.9,1)" font-size="9.6" font-style="italic" stroke="#000" stroke-width="0.45" fill="#000">MAL</text>
<text transform="translate(429.00,52.39) scale(0.9,1)" font-size="9.6" font-style="italic" stroke="#000" stroke-width="0.45" fill="#000">RGPD1</text>
<text transform="translate(429.00,59.53) scale(0.9,1)" font-size="9.6" font-style="italic" stroke="#000" stroke-width="0.45" fill="#000">NOTCH3</text>
<text transform="translate(429.00,66.66) scale(0.9,1)" font-size="9.6" font-style="italic" stroke="#000" stroke-width="0.45" fill="#000">RHOU</text>
<text transform="translate(429.00,73.80) scale(0.9,1)" font-size="9.6" font-style="italic" stroke="#000" stroke-width="0.45" fill="#000">FAT1</text>
<text transform="translate(429.00,80.94) scale(0.9,1)" font-size="9.6" font-style="italic" stroke="#000" stroke-width="0.45" fill="#000">RAPGEF5</text>
<text transform="translate(429.00,88.08) scale(0.9,1)" font-size="9.6" font-style="italic" stroke="#000" stroke-width="0.45" fill="#000">CR2</text>
<text transform="translate(429.00,95.21) scale(0.9,1)" font-size="9.6" font-style="italic" stroke="#000" stroke-width="0.45" fill="#000">LAT</text>
<text transform="translate(429.00,102.35) scale(0.9,1)" font-size="9.6" font-style="italic" stroke="#000" stroke-width="0.45" fill="#000">CDC25B</text>
<text transform="translate(429.00,109.49) scale(0.9,1)" font-size="9.6" font-style="italic" stroke="#000" stroke-width="0.45" fill="#000">MZB1</text>
<text transform="translate(429.00,116.62) scale(0.9,1)" font-size="9.6" font-style="italic" stroke="#000" stroke-width="0.45" fill="#000">TCTEX1D2</text>
<text transform="translate(429.00,123.76) scale(0.9,1)" font-size="9.6" font-style="italic" stroke="#000" stroke-width="0.45" fill="#000">SNTB2</text>
<text transform="translate(429.00,130.90) scale(0.9,1)" font-size="9.6" font-style="italic" stroke="#000" stroke-width="0.45" fill="#000">CCDC138</text>
<text transform="translate(429.00,138.03) scale(0.9,1)" font-size="9.6" font-style="italic" stroke="#000" stroke-width="0.45" fill="#000">SYNE2</text>
<text transform="translate(429.00,145.17) scale(0.9,1)" font-size="9.6" font-style="italic" stroke="#000" stroke-width="0.45" fill="#000">ZNF154</text>
<text transform="translate(429.00,152.31) scale(0.9,1)" font-size="9.6" font-style="italic" stroke="#000" stroke-width="0.45" fill="#000">MTA3</text>
<text transform="translate(429.00,159.45) scale(0.9,1)" font-size="9.6" font-style="italic" stroke="#000" stroke-width="0.45" fill="#000">SEPT1</text>
<text transform="translate(429.00,166.58) scale(0.9,1)" font-size="9.6" font-style="italic" stroke="#000" stroke-width="0.45" fill="#000">RNU6-15</text>
<text transform="translate(429.00,173.72) scale(0.9,1)" font-size="9.6" font-style="italic" stroke="#000" stroke-width="0.45" fill="#000">MRPL14</text>
<text transform="translate(429.00,180.86) scale(0.9,1)" font-size="9.6" font-style="italic" stroke="#000" stroke-width="0.45" fill="#000">PSMA6</text>
<text transform="translate(429.00,187.99) scale(0.9,1)" font-size="9.6" font-style="italic" stroke="#000" stroke-width="0.45" fill="#000">CNPY4</text>
<text transform="translate(429.00,195.13) scale(0.9,1)" font-size="9.6" font-style="italic" stroke="#000" stroke-width="0.45" fill="#000">SLC8A7</text>
<text transform="translate(429.00,202.27) scale(0.9,1)" font-size="9.6" font-style="italic" stroke="#000" stroke-width="0.45" fill="#000">LATS2</text>
<text transform="translate(429.00,209.40) scale(0.9,1)" font-size="9.6" font-style="italic" stroke="#000" stroke-width="0.45" fill="#000">NSFL1C</text>
<text transform="translate(429.00,216.54) scale(0.9,1)" font-size="9.6" font-style="italic" stroke="#000" stroke-width="0.45" fill="#000">OGFRL1</text>
<text transform="translate(429.00,223.68) scale(0.9,1)" font-size="9.6" font-style="italic" stroke="#000" stroke-width="0.45" fill="#000">PDXDC1</text>
<text transform="translate(429.00,230.82) scale(0.9,1)" font-size="9.6" font-style="italic" stroke="#000" stroke-width="0.45" fill="#000">MANBA</text>
<text transform="translate(429.00,237.95) scale(0.9,1)" font-size="9.6" font-style="italic" stroke="#000" stroke-width="0.45" fill="#000">TRAK1</text>
<text transform="translate(429.00,245.09) scale(0.9,1)" font-size="9.6" font-style="italic" stroke="#000" stroke-width="0.45" fill="#000">TSPAN13</text>
<text transform="translate(429.00,252.23) scale(0.9,1)" font-size="9.6" font-style="italic" stroke="#000" stroke-width="0.45" fill="#000">MFSD10</text>
<text transform="translate(429.00,259.36) scale(0.9,1)" font-size="9.6" font-style="italic" stroke="#000" stroke-width="0.45" fill="#000">MGLL</text>
<text transform="translate(429.00,266.50) scale(0.9,1)" font-size="9.6" font-style="italic" stroke="#000" stroke-width="0.45" fill="#000">PRKAG2</text>
<text transform="translate(429.00,273.64) scale(0.9,1)" font-size="9.6" font-style="italic" stroke="#000" stroke-width="0.45" fill="#000">WDR45L</text>
<text transform="translate(429.00,280.78) scale(0.9,1)" font-size="9.6" font-style="italic" stroke="#000" stroke-width="0.45" fill="#000">CTSA</text>
<text transform="translate(429.00,287.91) scale(0.9,1)" font-size="9.6" font-style="italic" stroke="#000" stroke-width="0.45" fill="#000">ACTN4</text>
<text transform="translate(429.00,295.05) scale(0.9,1)" font-size="9.6" font-style="italic" stroke="#000" stroke-width="0.45" fill="#000">C15orf39</text>
<text transform="translate(429.00,302.19) scale(0.9,1)" font-size="9.6" font-style="italic" stroke="#000" stroke-width="0.45" fill="#000">LAPTM5</text>
<text transform="translate(429.00,309.32) scale(0.9,1)" font-size="9.6" font-style="italic" stroke="#000" stroke-width="0.45" fill="#000">WDFY1</text>
<text transform="translate(429.00,316.46) scale(0.9,1)" font-size="9.6" font-style="italic" stroke="#000" stroke-width="0.45" fill="#000">GNG7</text>
<text transform="translate(429.00,323.60) scale(0.9,1)" font-size="9.6" font-style="italic" stroke="#000" stroke-width="0.45" fill="#000">FTH1</text>
<text transform="translate(429.00,330.73) scale(0.9,1)" font-size="9.6" font-style="italic" stroke="#000" stroke-width="0.45" fill="#000">MN1</text>
<text transform="translate(429.00,337.87) scale(0.9,1)" font-size="9.6" font-style="italic" stroke="#000" stroke-width="0.45" fill="#000">LYN</text>
<text transform="translate(429.00,345.01) scale(0.9,1)" font-size="9.6" font-style="italic" stroke="#000" stroke-width="0.45" fill="#000">NFIL3</text>
<text transform="translate(429.00,352.14) scale(0.9,1)" font-size="9.6" font-style="italic" stroke="#000" stroke-width="0.45" fill="#000">HHEX</text>
<text transform="translate(429.00,359.28) scale(0.9,1)" font-size="9.6" font-style="italic" stroke="#000" stroke-width="0.45" fill="#000">PRSS57</text>
<text transform="translate(429.00,366.42) scale(0.9,1)" font-size="9.6" font-style="italic" stroke="#000" stroke-width="0.45" fill="#000">FAM46A</text>
<text transform="translate(429.00,373.56) scale(0.9,1)" font-size="9.6" font-style="italic" stroke="#000" stroke-width="0.45" fill="#000">JUP</text>
<text transform="translate(429.00,380.69) scale(0.9,1)" font-size="9.6" font-style="italic" stroke="#000" stroke-width="0.45" fill="#000">HSH2D</text>
<rect x="183.5" y="394" width="112.7" height="11.7" fill="#0a0208"/>
<rect x="184.30" y="394.8" width="9.67" height="10.1" fill="#380ca4"/>
<rect x="195.57" y="394.8" width="9.67" height="10.1" fill="#2410d8"/>
<rect x="206.84" y="394.8" width="9.67" height="10.1" fill="#6a5cee"/>
<rect x="218.11" y="394.8" width="9.67" height="10.1" fill="#9290f4"/>
<rect x="229.38" y="394.8" width="9.67" height="10.1" fill="#cacaf8"/>
<rect x="240.65" y="394.8" width="9.67" height="10.1" fill="#f8ccec"/>
<rect x="251.92" y="394.8" width="9.67" height="10.1" fill="#f68c8c"/>
<rect x="263.19" y="394.8" width="9.67" height="10.1" fill="#f65a5a"/>
<rect x="274.46" y="394.8" width="9.67" height="10.1" fill="#ee4048"/>
<rect x="285.73" y="394.8" width="9.67" height="10.1" fill="#e00a0e"/>
<text transform="translate(187.20,423.40)" font-size="13.2" text-anchor="middle" font-weight="bold" fill="#000">-5</text>
<text transform="translate(240.00,423.40)" font-size="13.2" text-anchor="middle" font-weight="bold" fill="#000">0</text>
<text transform="translate(294.60,423.40)" font-size="13.2" text-anchor="middle" font-weight="bold" fill="#000">5</text>
<text transform="translate(0.50,443.40)" font-size="17.6" font-weight="bold" stroke="#000" stroke-width="0.6" fill="#000">B</text>
<g>
<line x1="39.5" y1="445" x2="39.5" y2="610.5" stroke="#000" stroke-width="1.2"/>
<line x1="39" y1="549" x2="248" y2="549" stroke="#222" stroke-width="1.5"/>
<line x1="39.4" y1="456.3" x2="41.5" y2="456.3" stroke="#000" stroke-width="0.9"/>
<text transform="translate(34.90,459.30) scale(1.12,1)" font-size="10.6" text-anchor="end" stroke="#000" stroke-width="0.3" fill="#000">0.8</text>
<text transform="translate(34.90,481.90) scale(1.12,1)" font-size="10.6" text-anchor="end" stroke="#000" stroke-width="0.3" fill="#000">0.6</text>
<text transform="translate(34.90,504.90) scale(1.12,1)" font-size="10.6" text-anchor="end" stroke="#000" stroke-width="0.3" fill="#000">0.4</text>
<text transform="translate(34.90,527.40) scale(1.12,1)" font-size="10.6" text-anchor="end" stroke="#000" stroke-width="0.3" fill="#000">0.2</text>
<text transform="translate(34.90,550.60) scale(1.12,1)" font-size="10.6" text-anchor="end" stroke="#000" stroke-width="0.3" fill="#000">0</text>
<text transform="translate(9.40,501.00) rotate(-90)" font-size="11.6" text-anchor="middle" stroke="#000" stroke-width="0.2" fill="#000">Enrichment Score</text>
<line x1="48.3" y1="458.2" x2="48.3" y2="549" stroke="#000" stroke-width="1" stroke-dasharray="6.5,7.15"/>
<polyline fill="none" stroke="#1a14bc" stroke-width="2.6" stroke-linejoin="round" points="39.6,549 40.3,510 41.1,470 43.8,463.3 47.3,455.8 48.2,446 56,449.4 56.8,447.9 66,453.5 67.1,450 110,474.0 112.3,473.7 248.6,548.6"/>
<rect x="39.9" y="562.3" width="8.9" height="11" fill="#f28888"/>
<line x1="56.2" y1="562.3" x2="56.2" y2="573.3" stroke="#e09aa0" stroke-width="1.1"/>
<line x1="66.4" y1="562.3" x2="66.4" y2="573.3" stroke="#e09aa0" stroke-width="1.1"/>
<line x1="110" y1="562.3" x2="110" y2="573.3" stroke="#e09aa0" stroke-width="1.1"/>
<line x1="113" y1="562.3" x2="113" y2="573.3" stroke="#e09aa0" stroke-width="1.1"/>
<line x1="156.5" y1="562.3" x2="156.5" y2="573.3" stroke="#e09aa0" stroke-width="1.1"/>
<polygon points="39.4,592.7 39.40,572.05 40.10,572.05 40.79,573.49 41.49,574.88 42.18,575.93 42.88,576.76 43.57,577.46 44.27,578.06 44.96,578.59 45.66,579.06 46.35,579.48 47.05,579.87 47.74,580.22 48.44,580.55 49.13,580.86 49.83,581.15 50.53,581.42 51.22,581.67 51.92,581.91 52.61,582.14 53.31,582.36 54.00,582.57 54.70,582.77 55.39,582.97 56.09,583.15 56.78,583.33 57.48,583.50 58.17,583.67 58.87,583.83 59.56,583.99 60.26,584.14 60.96,584.29 61.65,584.43 62.35,584.57 63.04,584.71 63.74,584.84 64.43,584.97 65.13,585.09 65.82,585.22 66.52,585.34 67.21,585.45 67.91,585.57 68.60,585.68 69.30,585.80 69.99,585.90 70.69,586.01 71.39,586.12 72.08,586.22 72.78,586.32 73.47,586.42 74.17,586.52 74.86,586.62 75.56,586.71 76.25,586.80 76.95,586.90 77.64,586.99 78.34,587.08 79.03,587.17 79.73,587.25 80.42,587.34 81.12,587.43 81.82,587.51 82.51,587.59 83.21,587.68 83.90,587.76 84.60,587.84 85.29,587.92 85.99,587.99 86.68,588.07 87.38,588.15 88.07,588.23 88.77,588.30 89.46,588.38 90.16,588.45 90.85,588.52 91.55,588.60 92.25,588.67 92.94,588.74 93.64,588.81 94.33,588.88 95.03,588.95 95.72,589.02 96.42,589.09 97.11,589.16 97.81,589.22 98.50,589.29 99.20,589.36 99.89,589.42 100.59,589.49 101.28,589.56 101.98,589.62 102.68,589.68 103.37,589.75 104.07,589.81 104.76,589.88 105.46,589.94 106.15,590.00 106.85,590.06 107.54,590.13 108.24,590.19 108.93,590.25 109.63,590.31 110.32,590.37 111.02,590.43 111.71,590.49 112.41,590.55 113.11,590.61 113.80,590.67 114.50,590.73 115.19,590.79 115.89,590.85 116.58,590.91 117.28,590.96 117.97,591.02 118.67,591.08 119.36,591.14 120.06,591.19 120.75,591.25 121.45,591.31 122.14,591.37 122.84,591.42 123.54,591.48 124.23,591.54 124.93,591.59 125.62,591.65 126.32,591.70 127.01,591.76 127.71,591.82 128.40,591.87 129.10,591.93 129.79,591.98 130.49,592.04 131.18,592.09 131.88,592.15 132.57,592.20 133.27,592.26 133.97,592.31 134.66,592.37 135.36,592.42 136.05,592.48 136.75,592.53 137.44,592.59 138.14,592.64 138.83,592.70 139.53,592.75 140.22,592.80 140.92,592.86 141.61,592.91 142.31,592.97 143.00,593.02 143.70,593.08 144.40,593.13 145.09,593.19 145.79,593.24 146.48,593.29 147.18,593.35 147.87,593.40 148.57,593.46 149.26,593.51 149.96,593.57 150.65,593.62 151.35,593.68 152.04,593.73 152.74,593.79 153.43,593.84 154.13,593.90 154.83,593.95 155.52,594.01 156.22,594.06 156.91,594.12 157.61,594.17 158.30,594.23 159.00,594.28 159.69,594.34 160.39,594.39 161.08,594.45 161.78,594.51 162.47,594.56 163.17,594.62 163.86,594.68 164.56,594.73 165.26,594.79 165.95,594.85 166.65,594.90 167.34,594.96 168.04,595.02 168.73,595.07 169.43,595.13 170.12,595.19 170.82,595.25 171.51,595.31 172.21,595.37 172.90,595.42 173.60,595.48 174.29,595.54 174.99,595.60 175.69,595.66 176.38,595.72 177.08,595.78 177.77,595.84 178.47,595.91 179.16,595.97 179.86,596.03 180.55,596.09 181.25,596.15 181.94,596.22 182.64,596.28 183.33,596.34 184.03,596.41 184.72,596.47 185.42,596.53 186.12,596.60 186.81,596.66 187.51,596.73 188.20,596.80 188.90,596.86 189.59,596.93 190.29,597.00 190.98,597.07 191.68,597.13 192.37,597.20 193.07,597.27 193.76,597.34 194.46,597.41 195.15,597.49 195.85,597.56 196.55,597.63 197.24,597.70 197.94,597.78 198.63,597.85 199.33,597.93 200.02,598.00 200.72,598.08 201.41,598.16 202.11,598.24 202.80,598.32 203.50,598.40 204.19,598.48 204.89,598.56 205.58,598.64 206.28,598.73 206.98,598.81 207.67,598.90 208.37,598.99 209.06,599.08 209.76,599.17 210.45,599.26 211.15,599.35 211.84,599.44 212.54,599.54 213.23,599.64 213.93,599.73 214.62,599.83 215.32,599.93 216.01,600.04 216.71,600.14 217.41,600.25 218.10,600.36 218.80,600.47 219.49,600.58 220.19,600.70 220.88,600.82 221.58,600.94 222.27,601.06 222.97,601.19 223.66,601.32 224.36,601.45 225.05,601.58 225.75,601.72 226.44,601.87 227.14,602.01 227.84,602.17 228.53,602.32 229.23,602.48 229.92,602.65 230.62,602.82 231.31,603.00 232.01,603.19 232.70,603.38 233.40,603.58 234.09,603.79 234.79,604.01 235.48,604.24 236.18,604.48 236.87,604.74 237.57,605.01 238.27,605.29 238.96,605.60 239.66,605.93 240.35,606.29 241.05,606.67 241.74,607.10 242.44,607.57 243.13,608.09 243.83,608.69 244.52,609.39 245.22,610.23 245.91,611.27 246.61,612.66 247.30,613.35 248.00,613.35 248,592.7" fill="#17875f"/>
<polyline fill="none" stroke="#0b2a20" stroke-width="1.4" points="39.40,572.05 40.10,572.05 40.79,573.49 41.49,574.88 42.18,575.93 42.88,576.76 43.57,577.46 44.27,578.06 44.96,578.59 45.66,579.06 46.35,579.48 47.05,579.87 47.74,580.22 48.44,580.55 49.13,580.86 49.83,581.15 50.53,581.42 51.22,581.67 51.92,581.91 52.61,582.14 53.31,582.36 54.00,582.57 54.70,582.77 55.39,582.97 56.09,583.15 56.78,583.33 57.48,583.50 58.17,583.67 58.87,583.83 59.56,583.99 60.26,584.14 60.96,584.29 61.65,584.43 62.35,584.57 63.04,584.71 63.74,584.84 64.43,584.97 65.13,585.09 65.82,585.22 66.52,585.34 67.21,585.45 67.91,585.57 68.60,585.68 69.30,585.80 69.99,585.90 70.69,586.01 71.39,586.12 72.08,586.22 72.78,586.32 73.47,586.42 74.17,586.52 74.86,586.62 75.56,586.71 76.25,586.80 76.95,586.90 77.64,586.99 78.34,587.08 79.03,587.17 79.73,587.25 80.42,587.34 81.12,587.43 81.82,587.51 82.51,587.59 83.21,587.68 83.90,587.76 84.60,587.84 85.29,587.92 85.99,587.99 86.68,588.07 87.38,588.15 88.07,588.23 88.77,588.30 89.46,588.38 90.16,588.45 90.85,588.52 91.55,588.60 92.25,588.67 92.94,588.74 93.64,588.81 94.33,588.88 95.03,588.95 95.72,589.02 96.42,589.09 97.11,589.16 97.81,589.22 98.50,589.29 99.20,589.36 99.89,589.42 100.59,589.49 101.28,589.56 101.98,589.62 102.68,589.68 103.37,589.75 104.07,589.81 104.76,589.88 105.46,589.94 106.15,590.00 106.85,590.06 107.54,590.13 108.24,590.19 108.93,590.25 109.63,590.31 110.32,590.37 111.02,590.43 111.71,590.49 112.41,590.55 113.11,590.61 113.80,590.67 114.50,590.73 115.19,590.79 115.89,590.85 116.58,590.91 117.28,590.96 117.97,591.02 118.67,591.08 119.36,591.14 120.06,591.19 120.75,591.25 121.45,591.31 122.14,591.37 122.84,591.42 123.54,591.48 124.23,591.54 124.93,591.59 125.62,591.65 126.32,591.70 127.01,591.76 127.71,591.82 128.40,591.87 129.10,591.93 129.79,591.98 130.49,592.04 131.18,592.09 131.88,592.15 132.57,592.20 133.27,592.26 133.97,592.31 134.66,592.37 135.36,592.42 136.05,592.48 136.75,592.53 137.44,592.59 138.14,592.64 138.83,592.70 139.53,592.75 140.22,592.80 140.92,592.86 141.61,592.91 142.31,592.97 143.00,593.02 143.70,593.08 144.40,593.13 145.09,593.19 145.79,593.24 146.48,593.29 147.18,593.35 147.87,593.40 148.57,593.46 149.26,593.51 149.96,593.57 150.65,593.62 151.35,593.68 152.04,593.73 152.74,593.79 153.43,593.84 154.13,593.90 154.83,593.95 155.52,594.01 156.22,594.06 156.91,594.12 157.61,594.17 158.30,594.23 159.00,594.28 159.69,594.34 160.39,594.39 161.08,594.45 161.78,594.51 162.47,594.56 163.17,594.62 163.86,594.68 164.56,594.73 165.26,594.79 165.95,594.85 166.65,594.90 167.34,594.96 168.04,595.02 168.73,595.07 169.43,595.13 170.12,595.19 170.82,595.25 171.51,595.31 172.21,595.37 172.90,595.42 173.60,595.48 174.29,595.54 174.99,595.60 175.69,595.66 176.38,595.72 177.08,595.78 177.77,595.84 178.47,595.91 179.16,595.97 179.86,596.03 180.55,596.09 181.25,596.15 181.94,596.22 182.64,596.28 183.33,596.34 184.03,596.41 184.72,596.47 185.42,596.53 186.12,596.60 186.81,596.66 187.51,596.73 188.20,596.80 188.90,596.86 189.59,596.93 190.29,597.00 190.98,597.07 191.68,597.13 192.37,597.20 193.07,597.27 193.76,597.34 194.46,597.41 195.15,597.49 195.85,597.56 196.55,597.63 197.24,597.70 197.94,597.78 198.63,597.85 199.33,597.93 200.02,598.00 200.72,598.08 201.41,598.16 202.11,598.24 202.80,598.32 203.50,598.40 204.19,598.48 204.89,598.56 205.58,598.64 206.28,598.73 206.98,598.81 207.67,598.90 208.37,598.99 209.06,599.08 209.76,599.17 210.45,599.26 211.15,599.35 211.84,599.44 212.54,599.54 213.23,599.64 213.93,599.73 214.62,599.83 215.32,599.93 216.01,600.04 216.71,600.14 217.41,600.25 218.10,600.36 218.80,600.47 219.49,600.58 220.19,600.70 220.88,600.82 221.58,600.94 222.27,601.06 222.97,601.19 223.66,601.32 224.36,601.45 225.05,601.58 225.75,601.72 226.44,601.87 227.14,602.01 227.84,602.17 228.53,602.32 229.23,602.48 229.92,602.65 230.62,602.82 231.31,603.00 232.01,603.19 232.70,603.38 233.40,603.58 234.09,603.79 234.79,604.01 235.48,604.24 236.18,604.48 236.87,604.74 237.57,605.01 238.27,605.29 238.96,605.60 239.66,605.93 240.35,606.29 241.05,606.67 241.74,607.10 242.44,607.57 243.13,608.09 243.83,608.69 244.52,609.39 245.22,610.23 245.91,611.27 246.61,612.66 247.30,613.35 248.00,613.35"/>
<rect x="39.4" y="575.5" width="208.6" height="34.5" fill="none" stroke="#111" stroke-width="1.3"/>
<line x1="39.4" y1="592.7" x2="248" y2="592.7" stroke="#0b2a20" stroke-width="1.4"/>
<text transform="translate(34.70,581.90) scale(1.12,1)" font-size="10.6" text-anchor="end" stroke="#000" stroke-width="0.3" fill="#000">4</text>
<text transform="translate(34.70,594.40) scale(1.12,1)" font-size="10.6" text-anchor="end" stroke="#000" stroke-width="0.3" fill="#000">0</text>
<text transform="translate(34.70,609.20) scale(1.12,1)" font-size="10.6" text-anchor="end" stroke="#000" stroke-width="0.3" fill="#000">−4</text>
<text transform="translate(8.80,589.50) rotate(-90)" font-size="11.6" text-anchor="middle" stroke="#000" stroke-width="0.2" fill="#000">t−score</text>
<text transform="translate(37.60,629.50) scale(1.085,1)" font-size="12.8" stroke="#000" stroke-width="0.15" fill="#000">Early Immature</text>
<text transform="translate(37.60,646.00) scale(1.085,1)" font-size="12.8" stroke="#000" stroke-width="0.15" fill="#000">T-ALL</text>
<text transform="translate(248.30,629.50) scale(1.085,1)" font-size="12.8" text-anchor="end" stroke="#000" stroke-width="0.15" fill="#000">Cortical/mature</text>
<text transform="translate(248.30,646.00) scale(1.085,1)" font-size="12.8" text-anchor="end" stroke="#000" stroke-width="0.15" fill="#000">T-ALL</text>
</g>
<g>
<line x1="310.6" y1="556.5" x2="310.6" y2="610" stroke="#000" stroke-width="1.1"/>
<line x1="309" y1="456.8" x2="519" y2="456.8" stroke="#222" stroke-width="1.5"/>
<line x1="309.8" y1="502.5" x2="312.8" y2="502.5" stroke="#222" stroke-width="1"/>
<line x1="309.8" y1="514.6" x2="312.8" y2="514.6" stroke="#222" stroke-width="1"/>
<text transform="translate(305.90,458.90) scale(1.12,1)" font-size="10.6" text-anchor="end" stroke="#000" stroke-width="0.3" fill="#000">0</text>
<text transform="translate(305.90,481.40) scale(1.12,1)" font-size="10.6" text-anchor="end" stroke="#000" stroke-width="0.3" fill="#000">−0.2</text>
<text transform="translate(305.90,505.40) scale(1.12,1)" font-size="10.6" text-anchor="end" stroke="#000" stroke-width="0.3" fill="#000">−0.4</text>
<text transform="translate(305.90,527.90) scale(1.12,1)" font-size="10.6" text-anchor="end" stroke="#000" stroke-width="0.3" fill="#000">−0.6</text>
<text transform="translate(305.90,550.60) scale(1.12,1)" font-size="10.6" text-anchor="end" stroke="#000" stroke-width="0.3" fill="#000">−0.8</text>
<text transform="translate(279.60,507.50) rotate(-90)" font-size="11.6" text-anchor="middle" stroke="#000" stroke-width="0.2" fill="#000">Enrichment Score</text>
<line x1="494.4" y1="457" x2="494.4" y2="550" stroke="#000" stroke-width="1" stroke-dasharray="6.5,7.15"/>
<polyline fill="none" stroke="#1a14bc" stroke-width="2.6" stroke-linejoin="round" points="309,456.6 494,558.7 494.5,550 509,558.4 509.5,545.8 512,545.8 512,534.7 513.5,533 515,473.4 516.5,473 517,456.5 519,456.5"/>
<line x1="494.1" y1="562.8" x2="494.1" y2="573.5" stroke="#c83040" stroke-width="1.3"/>
<line x1="509.6" y1="562.8" x2="509.6" y2="573.5" stroke="#c82030" stroke-width="1.2"/>
<rect x="511.9" y="562.8" width="5.8" height="10.7" fill="#e81818"/>
<line x1="513.6" y1="562.8" x2="513.6" y2="573.5" stroke="#c01010" stroke-width="0.6"/>
<line x1="515.8" y1="562.8" x2="515.8" y2="573.5" stroke="#c01010" stroke-width="0.6"/>
<polygon points="310.6,593 310.60,572.35 311.29,572.35 311.99,574.01 312.68,575.40 313.37,576.44 314.06,577.28 314.76,577.97 315.45,578.57 316.14,579.10 316.84,579.57 317.53,579.99 318.22,580.38 318.92,580.74 319.61,581.07 320.30,581.37 321.00,581.66 321.69,581.93 322.38,582.19 323.07,582.43 323.77,582.66 324.46,582.88 325.15,583.09 325.85,583.29 326.54,583.48 327.23,583.67 327.93,583.84 328.62,584.02 329.31,584.18 330.00,584.35 330.70,584.50 331.39,584.65 332.08,584.80 332.78,584.94 333.47,585.08 334.16,585.22 334.86,585.35 335.55,585.48 336.24,585.61 336.93,585.73 337.63,585.85 338.32,585.97 339.01,586.08 339.71,586.20 340.40,586.31 341.09,586.42 341.79,586.52 342.48,586.63 343.17,586.73 343.86,586.83 344.56,586.93 345.25,587.03 345.94,587.13 346.64,587.22 347.33,587.32 348.02,587.41 348.72,587.50 349.41,587.59 350.10,587.68 350.79,587.77 351.49,587.85 352.18,587.94 352.87,588.02 353.57,588.11 354.26,588.19 354.95,588.27 355.65,588.35 356.34,588.43 357.03,588.51 357.72,588.59 358.42,588.66 359.11,588.74 359.80,588.82 360.50,588.89 361.19,588.96 361.88,589.04 362.58,589.11 363.27,589.18 363.96,589.25 364.65,589.32 365.35,589.39 366.04,589.46 366.73,589.53 367.43,589.60 368.12,589.67 368.81,589.74 369.50,589.81 370.20,589.87 370.89,589.94 371.58,590.00 372.28,590.07 372.97,590.13 373.66,590.20 374.36,590.26 375.05,590.33 375.74,590.39 376.44,590.45 377.13,590.52 377.82,590.58 378.51,590.64 379.21,590.70 379.90,590.76 380.59,590.82 381.29,590.88 381.98,590.94 382.67,591.00 383.37,591.06 384.06,591.12 384.75,591.18 385.44,591.24 386.14,591.30 386.83,591.36 387.52,591.42 388.22,591.48 388.91,591.54 389.60,591.59 390.30,591.65 390.99,591.71 391.68,591.77 392.37,591.82 393.07,591.88 393.76,591.94 394.45,591.99 395.15,592.05 395.84,592.11 396.53,592.16 397.23,592.22 397.92,592.27 398.61,592.33 399.30,592.38 400.00,592.44 400.69,592.50 401.38,592.55 402.08,592.61 402.77,592.66 403.46,592.72 404.16,592.77 404.85,592.83 405.54,592.88 406.23,592.94 406.93,592.99 407.62,593.05 408.31,593.10 409.01,593.15 409.70,593.21 410.39,593.26 411.09,593.32 411.78,593.37 412.47,593.43 413.16,593.48 413.86,593.54 414.55,593.59 415.24,593.65 415.94,593.70 416.63,593.75 417.32,593.81 418.01,593.86 418.71,593.92 419.40,593.97 420.09,594.03 420.79,594.08 421.48,594.14 422.17,594.19 422.87,594.25 423.56,594.30 424.25,594.35 424.94,594.41 425.64,594.46 426.33,594.52 427.02,594.57 427.72,594.63 428.41,594.69 429.10,594.74 429.80,594.80 430.49,594.85 431.18,594.91 431.88,594.96 432.57,595.02 433.26,595.08 433.95,595.13 434.65,595.19 435.34,595.25 436.03,595.30 436.73,595.36 437.42,595.42 438.11,595.47 438.81,595.53 439.50,595.59 440.19,595.65 440.88,595.70 441.58,595.76 442.27,595.82 442.96,595.88 443.66,595.94 444.35,596.00 445.04,596.06 445.74,596.12 446.43,596.18 447.12,596.24 447.81,596.30 448.51,596.36 449.20,596.42 449.89,596.48 450.59,596.54 451.28,596.60 451.97,596.67 452.66,596.73 453.36,596.79 454.05,596.86 454.74,596.92 455.44,596.98 456.13,597.05 456.82,597.11 457.52,597.18 458.21,597.24 458.90,597.31 459.60,597.38 460.29,597.44 460.98,597.51 461.67,597.58 462.37,597.65 463.06,597.72 463.75,597.79 464.45,597.86 465.14,597.93 465.83,598.00 466.52,598.07 467.22,598.14 467.91,598.22 468.60,598.29 469.30,598.37 469.99,598.44 470.68,598.52 471.38,598.60 472.07,598.67 472.76,598.75 473.46,598.83 474.15,598.91 474.84,598.99 475.53,599.07 476.23,599.16 476.92,599.24 477.61,599.33 478.31,599.41 479.00,599.50 479.69,599.59 480.38,599.68 481.08,599.77 481.77,599.86 482.46,599.96 483.16,600.05 483.85,600.15 484.54,600.25 485.24,600.35 485.93,600.45 486.62,600.55 487.31,600.66 488.01,600.76 488.70,600.87 489.39,600.98 490.09,601.10 490.78,601.21 491.47,601.33 492.17,601.45 492.86,601.57 493.55,601.70 494.25,601.83 494.94,601.96 495.63,602.10 496.32,602.24 497.02,602.38 497.71,602.53 498.40,602.68 499.10,602.84 499.79,603.00 500.48,603.16 501.18,603.34 501.87,603.52 502.56,603.70 503.25,603.89 503.95,604.09 504.64,604.30 505.33,604.52 506.03,604.75 506.72,605.00 507.41,605.25 508.11,605.52 508.80,605.81 509.49,606.12 510.18,606.44 510.88,606.80 511.57,607.19 512.26,607.61 512.96,608.08 513.65,608.61 514.34,609.21 515.03,609.90 515.73,610.74 516.42,611.78 517.11,613.17 517.81,613.65 518.50,613.65 518.5,593" fill="#17875f"/>
<polyline fill="none" stroke="#0b2a20" stroke-width="1.4" points="310.60,572.35 311.29,572.35 311.99,574.01 312.68,575.40 313.37,576.44 314.06,577.28 314.76,577.97 315.45,578.57 316.14,579.10 316.84,579.57 317.53,579.99 318.22,580.38 318.92,580.74 319.61,581.07 320.30,581.37 321.00,581.66 321.69,581.93 322.38,582.19 323.07,582.43 323.77,582.66 324.46,582.88 325.15,583.09 325.85,583.29 326.54,583.48 327.23,583.67 327.93,583.84 328.62,584.02 329.31,584.18 330.00,584.35 330.70,584.50 331.39,584.65 332.08,584.80 332.78,584.94 333.47,585.08 334.16,585.22 334.86,585.35 335.55,585.48 336.24,585.61 336.93,585.73 337.63,585.85 338.32,585.97 339.01,586.08 339.71,586.20 340.40,586.31 341.09,586.42 341.79,586.52 342.48,586.63 343.17,586.73 343.86,586.83 344.56,586.93 345.25,587.03 345.94,587.13 346.64,587.22 347.33,587.32 348.02,587.41 348.72,587.50 349.41,587.59 350.10,587.68 350.79,587.77 351.49,587.85 352.18,587.94 352.87,588.02 353.57,588.11 354.26,588.19 354.95,588.27 355.65,588.35 356.34,588.43 357.03,588.51 357.72,588.59 358.42,588.66 359.11,588.74 359.80,588.82 360.50,588.89 361.19,588.96 361.88,589.04 362.58,589.11 363.27,589.18 363.96,589.25 364.65,589.32 365.35,589.39 366.04,589.46 366.73,589.53 367.43,589.60 368.12,589.67 368.81,589.74 369.50,589.81 370.20,589.87 370.89,589.94 371.58,590.00 372.28,590.07 372.97,590.13 373.66,590.20 374.36,590.26 375.05,590.33 375.74,590.39 376.44,590.45 377.13,590.52 377.82,590.58 378.51,590.64 379.21,590.70 379.90,590.76 380.59,590.82 381.29,590.88 381.98,590.94 382.67,591.00 383.37,591.06 384.06,591.12 384.75,591.18 385.44,591.24 386.14,591.30 386.83,591.36 387.52,591.42 388.22,591.48 388.91,591.54 389.60,591.59 390.30,591.65 390.99,591.71 391.68,591.77 392.37,591.82 393.07,591.88 393.76,591.94 394.45,591.99 395.15,592.05 395.84,592.11 396.53,592.16 397.23,592.22 397.92,592.27 398.61,592.33 399.30,592.38 400.00,592.44 400.69,592.50 401.38,592.55 402.08,592.61 402.77,592.66 403.46,592.72 404.16,592.77 404.85,592.83 405.54,592.88 406.23,592.94 406.93,592.99 407.62,593.05 408.31,593.10 409.01,593.15 409.70,593.21 410.39,593.26 411.09,593.32 411.78,593.37 412.47,593.43 413.16,593.48 413.86,593.54 414.55,593.59 415.24,593.65 415.94,593.70 416.63,593.75 417.32,593.81 418.01,593.86 418.71,593.92 419.40,593.97 420.09,594.03 420.79,594.08 421.48,594.14 422.17,594.19 422.87,594.25 423.56,594.30 424.25,594.35 424.94,594.41 425.64,594.46 426.33,594.52 427.02,594.57 427.72,594.63 428.41,594.69 429.10,594.74 429.80,594.80 430.49,594.85 431.18,594.91 431.88,594.96 432.57,595.02 433.26,595.08 433.95,595.13 434.65,595.19 435.34,595.25 436.03,595.30 436.73,595.36 437.42,595.42 438.11,595.47 438.81,595.53 439.50,595.59 440.19,595.65 440.88,595.70 441.58,595.76 442.27,595.82 442.96,595.88 443.66,595.94 444.35,596.00 445.04,596.06 445.74,596.12 446.43,596.18 447.12,596.24 447.81,596.30 448.51,596.36 449.20,596.42 449.89,596.48 450.59,596.54 451.28,596.60 451.97,596.67 452.66,596.73 453.36,596.79 454.05,596.86 454.74,596.92 455.44,596.98 456.13,597.05 456.82,597.11 457.52,597.18 458.21,597.24 458.90,597.31 459.60,597.38 460.29,597.44 460.98,597.51 461.67,597.58 462.37,597.65 463.06,597.72 463.75,597.79 464.45,597.86 465.14,597.93 465.83,598.00 466.52,598.07 467.22,598.14 467.91,598.22 468.60,598.29 469.30,598.37 469.99,598.44 470.68,598.52 471.38,598.60 472.07,598.67 472.76,598.75 473.46,598.83 474.15,598.91 474.84,598.99 475.53,599.07 476.23,599.16 476.92,599.24 477.61,599.33 478.31,599.41 479.00,599.50 479.69,599.59 480.38,599.68 481.08,599.77 481.77,599.86 482.46,599.96 483.16,600.05 483.85,600.15 484.54,600.25 485.24,600.35 485.93,600.45 486.62,600.55 487.31,600.66 488.01,600.76 488.70,600.87 489.39,600.98 490.09,601.10 490.78,601.21 491.47,601.33 492.17,601.45 492.86,601.57 493.55,601.70 494.25,601.83 494.94,601.96 495.63,602.10 496.32,602.24 497.02,602.38 497.71,602.53 498.40,602.68 499.10,602.84 499.79,603.00 500.48,603.16 501.18,603.34 501.87,603.52 502.56,603.70 503.25,603.89 503.95,604.09 504.64,604.30 505.33,604.52 506.03,604.75 506.72,605.00 507.41,605.25 508.11,605.52 508.80,605.81 509.49,606.12 510.18,606.44 510.88,606.80 511.57,607.19 512.26,607.61 512.96,608.08 513.65,608.61 514.34,609.21 515.03,609.90 515.73,610.74 516.42,611.78 517.11,613.17 517.81,613.65 518.50,613.65"/>
<rect x="310.6" y="575.8" width="207.9" height="34.2" fill="none" stroke="#111" stroke-width="1.3"/>
<line x1="310.6" y1="593" x2="518.5" y2="593" stroke="#0b2a20" stroke-width="1.4"/>
<line x1="519.2" y1="575.8" x2="519.2" y2="646" stroke="#000" stroke-width="1.2"/>
<text transform="translate(305.40,582.20) scale(1.12,1)" font-size="10.6" text-anchor="end" stroke="#000" stroke-width="0.3" fill="#000">4</text>
<text transform="translate(305.40,594.90) scale(1.12,1)" font-size="10.6" text-anchor="end" stroke="#000" stroke-width="0.3" fill="#000">0</text>
<text transform="translate(305.40,609.40) scale(1.12,1)" font-size="10.6" text-anchor="end" stroke="#000" stroke-width="0.3" fill="#000">−4</text>
<text transform="translate(279.50,591.90) rotate(-90)" font-size="11.6" text-anchor="middle" stroke="#000" stroke-width="0.2" fill="#000">t−score</text>
<text transform="translate(306.60,630.40) scale(1.085,1)" font-size="12.8" stroke="#000" stroke-width="0.15" fill="#000">Early Immature</text>
<text transform="translate(306.60,646.30) scale(1.085,1)" font-size="12.8" stroke="#000" stroke-width="0.15" fill="#000">T-ALL</text>
<text transform="translate(516.60,629.30) scale(1.085,1)" font-size="12.8" text-anchor="end" stroke="#000" stroke-width="0.15" fill="#000">Cortical/mature</text>
<text transform="translate(516.00,645.60) scale(1.085,1)" font-size="12.8" text-anchor="end" stroke="#000" stroke-width="0.15" fill="#000">T-ALL</text>
</g>
<text transform="translate(36.40,680.10)" font-size="16.8" font-weight="bold" stroke="#000" stroke-width="0.6" fill="#000">C</text>
<line x1="118" y1="674" x2="118" y2="885.8" stroke="#000" stroke-width="2"/>
<line x1="117" y1="884.8" x2="431.5" y2="884.8" stroke="#000" stroke-width="2"/>
<line x1="111.6" y1="884.8" x2="118" y2="884.8" stroke="#000" stroke-width="1.8"/>
<text transform="translate(106.60,891.00)" font-size="17.2" text-anchor="end" stroke="#000" stroke-width="0.3" fill="#000">0</text>
<line x1="111.6" y1="842.9" x2="118" y2="842.9" stroke="#000" stroke-width="1.8"/>
<text transform="translate(106.60,849.10)" font-size="17.2" text-anchor="end" stroke="#000" stroke-width="0.3" fill="#000">20</text>
<line x1="111.6" y1="801.0" x2="118" y2="801.0" stroke="#000" stroke-width="1.8"/>
<text transform="translate(106.60,807.20)" font-size="17.2" text-anchor="end" stroke="#000" stroke-width="0.3" fill="#000">40</text>
<line x1="111.6" y1="759.1" x2="118" y2="759.1" stroke="#000" stroke-width="1.8"/>
<text transform="translate(106.60,765.30)" font-size="17.2" text-anchor="end" stroke="#000" stroke-width="0.3" fill="#000">60</text>
<line x1="111.6" y1="717.2" x2="118" y2="717.2" stroke="#000" stroke-width="1.8"/>
<text transform="translate(106.60,723.40)" font-size="17.2" text-anchor="end" stroke="#000" stroke-width="0.3" fill="#000">80</text>
<line x1="111.6" y1="675.3" x2="118" y2="675.3" stroke="#000" stroke-width="1.8"/>
<text transform="translate(106.60,681.50)" font-size="17.2" text-anchor="end" stroke="#000" stroke-width="0.3" fill="#000">100</text>
<line x1="117.8" y1="884.8" x2="117.8" y2="890.6" stroke="#000" stroke-width="1.8"/>
<text transform="translate(117.80,909.20)" font-size="17.2" text-anchor="middle" stroke="#000" stroke-width="0.3" fill="#000">0</text>
<line x1="221.8" y1="884.8" x2="221.8" y2="890.6" stroke="#000" stroke-width="1.8"/>
<text transform="translate(221.80,909.20)" font-size="17.2" text-anchor="middle" stroke="#000" stroke-width="0.3" fill="#000">5</text>
<line x1="325.8" y1="884.8" x2="325.8" y2="890.6" stroke="#000" stroke-width="1.8"/>
<text transform="translate(325.80,909.20)" font-size="17.2" text-anchor="middle" stroke="#000" stroke-width="0.3" fill="#000">10</text>
<line x1="429.8" y1="884.8" x2="429.8" y2="890.6" stroke="#000" stroke-width="1.8"/>
<text transform="translate(429.80,909.20)" font-size="17.2" text-anchor="middle" stroke="#000" stroke-width="0.3" fill="#000">15</text>
<text transform="translate(251.80,930.40)" font-size="17.0" stroke="#000" stroke-width="0.3" fill="#000">years</text>
<text transform="translate(69.60,782.10) rotate(-90)" font-size="17.6" text-anchor="middle" stroke="#000" stroke-width="0.3" fill="#000">Overall survival (%)</text>
<polyline fill="none" stroke="#d8141c" stroke-width="2.2" points="118,675 119,675 119,689.7 129,689.7 128.6,697 129.6,697 133.8,750 140,750 140,765 148.5,765 148.5,772.7 156.2,772.7 156.2,781.2 162.3,781.2 162.3,789.2 167.7,789.2 167.7,797.3 176.2,797.3 176.2,805.4 195,805.4 195,813.4 255.7,813.4 255.7,837.1 323.5,837.1 323.5,884"/>
<polyline fill="none" stroke="#1010d0" stroke-width="2.2" points="118,675 130,675 130,692.5 134.2,692.5 134.2,701 145.6,701 145.6,710 147.3,710 147.3,718.6 156.7,718.6 156.7,727.1 169.5,727.1 169.5,744.7 173,744.7 173,762.3 224.3,762.3 224.3,773.4 428,773.4"/>
<line x1="119" y1="676" x2="119" y2="689" stroke="#200" stroke-width="1.6"/>
<line x1="129.6" y1="697" x2="133.8" y2="750" stroke="#200" stroke-width="1.2" stroke-dasharray="3,2"/>
<line x1="140" y1="751" x2="140" y2="764" stroke="#300" stroke-width="1.4"/>
<line x1="148.5" y1="766" x2="148.5" y2="771.7" stroke="#300" stroke-width="1.4"/>
<line x1="156.2" y1="773.7" x2="156.2" y2="780.2" stroke="#300" stroke-width="1.4"/>
<line x1="162.3" y1="782.2" x2="162.3" y2="788.2" stroke="#300" stroke-width="1.4"/>
<line x1="167.7" y1="790.2" x2="167.7" y2="796.3" stroke="#300" stroke-width="1.4"/>
<line x1="176.2" y1="798.3" x2="176.2" y2="804.4" stroke="#300" stroke-width="1.4"/>
<line x1="122.2" y1="670.5" x2="122.2" y2="675" stroke="#000" stroke-width="1.3"/>
<line x1="193.4" y1="758" x2="193.4" y2="762.3" stroke="#000" stroke-width="1.3"/>
<line x1="214.6" y1="758" x2="214.6" y2="762.3" stroke="#000" stroke-width="1.3"/>
<line x1="261.2" y1="769" x2="261.2" y2="773.4" stroke="#000" stroke-width="1.3"/>
<line x1="275.8" y1="769" x2="275.8" y2="773.4" stroke="#000" stroke-width="1.3"/>
<line x1="300" y1="769" x2="300" y2="773.4" stroke="#000" stroke-width="1.3"/>
<line x1="318.8" y1="769" x2="318.8" y2="773.4" stroke="#000" stroke-width="1.3"/>
<line x1="328.4" y1="769" x2="328.4" y2="773.4" stroke="#000" stroke-width="1.3"/>
<line x1="350" y1="769" x2="350" y2="773.4" stroke="#000" stroke-width="1.3"/>
<line x1="394.4" y1="769" x2="394.4" y2="773.4" stroke="#000" stroke-width="1.3"/>
<line x1="427.5" y1="769" x2="427.5" y2="773.4" stroke="#000" stroke-width="1.3"/>
<line x1="203.8" y1="809" x2="203.8" y2="813.4" stroke="#000" stroke-width="1.3"/>
<line x1="219.7" y1="809" x2="219.7" y2="813.4" stroke="#000" stroke-width="1.3"/>
<line x1="222" y1="809" x2="222" y2="813.4" stroke="#000" stroke-width="1.3"/>
<line x1="224.8" y1="809" x2="224.8" y2="813.4" stroke="#000" stroke-width="1.3"/>
<line x1="244.6" y1="809" x2="244.6" y2="813.4" stroke="#000" stroke-width="1.3"/>
<line x1="265" y1="832.7" x2="265" y2="837.1" stroke="#000" stroke-width="1.3"/>
<line x1="257.3" y1="688.3" x2="283.7" y2="688.3" stroke="#d8141c" stroke-width="2"/>
<line x1="270.2" y1="684.5" x2="270.2" y2="688.3" stroke="#000" stroke-width="1.3"/>
<line x1="257.3" y1="712.8" x2="283.7" y2="712.8" stroke="#1010d0" stroke-width="2"/>
<line x1="270.2" y1="709.3" x2="270.2" y2="712.8" stroke="#000" stroke-width="1.3"/>
<text transform="translate(290.40,692.30)" font-size="17.35" stroke="#000" stroke-width="0.3" fill="#000">early immature</text>
<text transform="translate(289.60,716.70)" font-size="17.4" stroke="#000" stroke-width="0.3" fill="#000">cortical / mature</text>
<text transform="translate(346.40,867.00)" font-size="17.7" stroke="#000" stroke-width="0.3" fill="#000">p = 0.0112</text>
</svg>
</body></html>
